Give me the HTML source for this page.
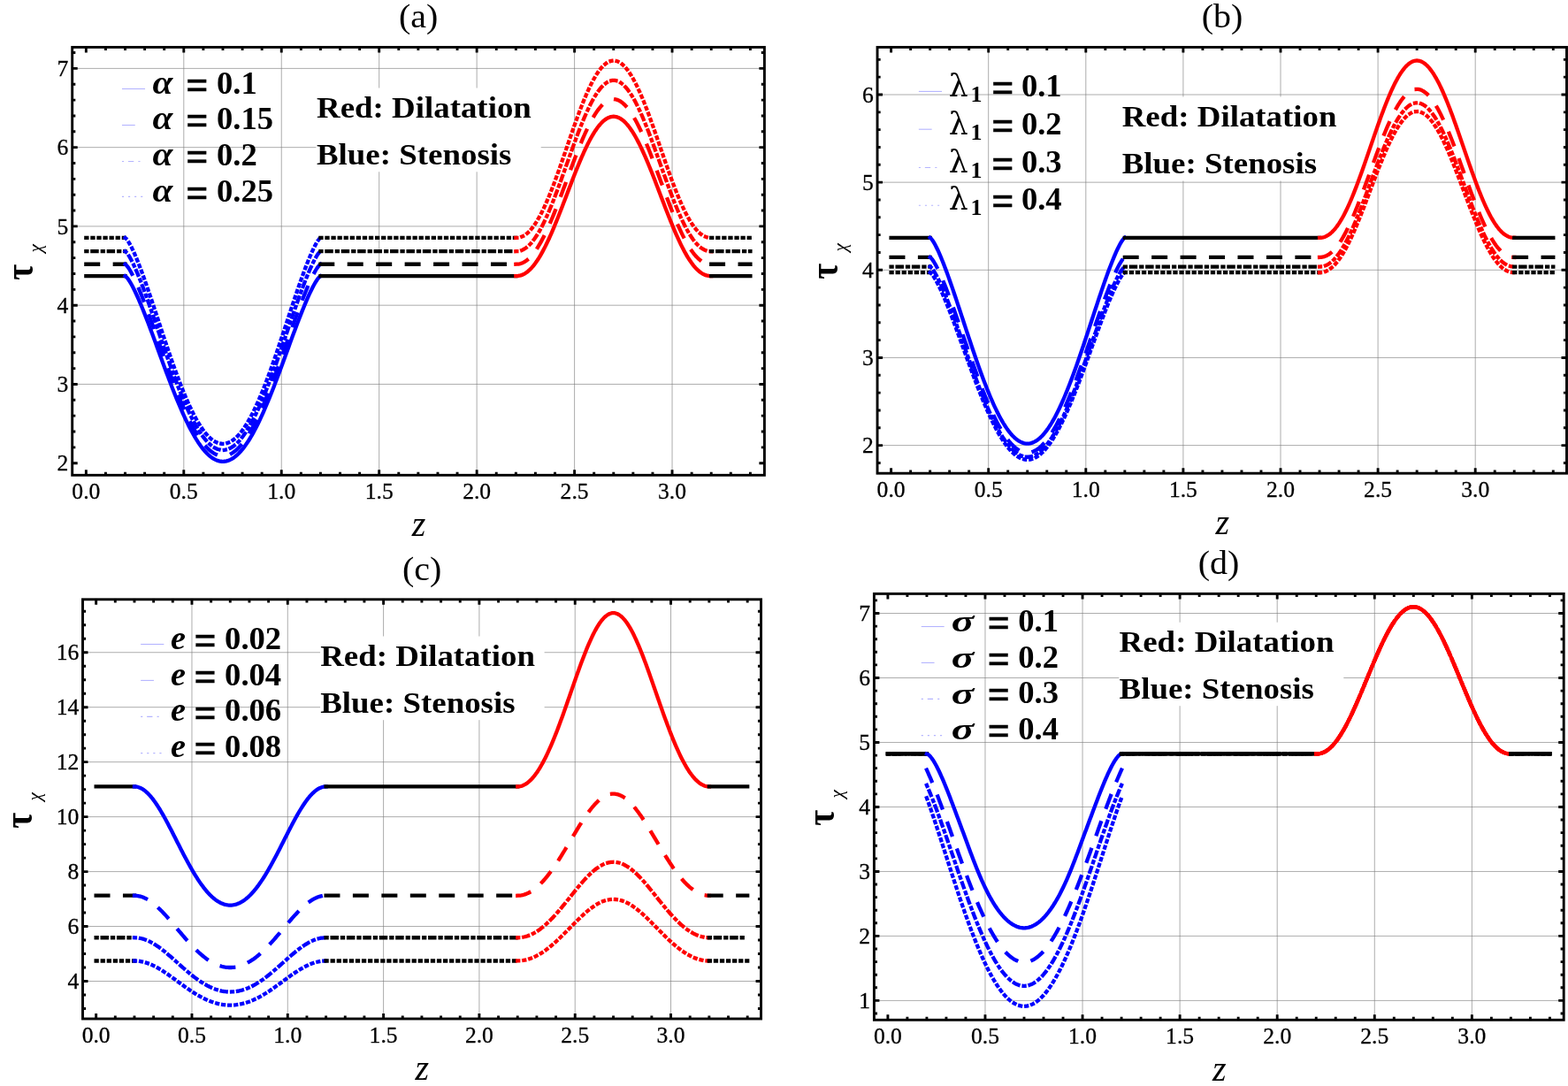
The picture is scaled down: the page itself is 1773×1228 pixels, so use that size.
<!DOCTYPE html>
<html lang="en">
<head>
<meta charset="utf-8">
<title>Wall shear stress plots</title>
<style>
html,body{margin:0;padding:0;background:#fff}
body{width:1773px;height:1228px;overflow:hidden}
svg{display:block;font-family:"Liberation Serif","DejaVu Serif",serif;fill:#000}
.grid{fill:none;stroke:#7a7a7a;stroke-width:0.62}
.frame{fill:none;stroke:#000;stroke-width:2.9}
.ticks{fill:none;stroke:#000;stroke-width:2.9}
.curves path{fill:none;stroke-linejoin:round}
.leg path{fill:none}
.eq{stroke:#000;stroke-width:.19}
.tl{stroke:#000;stroke-width:.3}
</style>
</head>
<body>
<svg width="1773" height="1228" viewBox="0 0 1773 1228">
<rect x="0" y="0" width="1773" height="1228" fill="#fff"/>
<g id="panel-a">
<path class="grid" d="M207.8 53.4V537.3M318.25 53.4V537.3M428.7 53.4V537.3M539.15 53.4V537.3M649.6 53.4V537.3M760.05 53.4V537.3M81.7 434.44H864.4M81.7 345.18H864.4M81.7 255.92H864.4M81.7 166.66H864.4M81.7 77.4H864.4"/>
<rect x="357.4" y="99.5" width="254.3" height="94.8" fill="#fff"/>
<g class="curves">
<path d="M97.35 312.15H141.53" stroke="#000" stroke-width="4.3" stroke-linecap="square"/>
<path d="M97.35 298.76H141.53" stroke="#000" stroke-width="4.3" stroke-linecap="square" stroke-dasharray="13.7 18.75"/>
<path d="M97.35 284.22H141.53" stroke="#000" stroke-width="4.3" stroke-linecap="square" stroke-dasharray="1 6 5.2 6.23"/>
<path d="M97.35 268.95H141.53" stroke="#000" stroke-width="4.3" stroke-linecap="square" stroke-dasharray="1 6.08"/>
<path d="M141.53 312.15L142.91 313.19L144.29 314.8L145.67 316.73L147.05 318.9L148.43 321.27L149.81 323.8L151.19 326.48L152.57 329.29L153.96 332.21L155.34 335.24L156.72 338.36L158.1 341.57L159.48 344.85L160.86 348.21L162.24 351.63L163.62 355.11L165 358.64L166.38 362.21L167.76 365.83L169.14 369.48L170.52 373.16L171.9 376.87L173.28 380.6L174.66 384.35L176.05 388.11L177.43 391.89L178.81 395.66L180.19 399.44L181.57 403.21L182.95 406.98L184.33 410.73L185.71 414.47L187.09 418.2L188.47 421.9L189.85 425.58L191.23 429.23L192.61 432.84L193.99 436.42L195.37 439.97L196.75 443.47L198.14 446.93L199.52 450.34L200.9 453.7L202.28 457.01L203.66 460.26L205.04 463.45L206.42 466.58L207.8 469.65L209.18 472.65L210.56 475.58L211.94 478.43L213.32 481.22L214.7 483.93L216.08 486.55L217.46 489.1L218.85 491.57L220.23 493.95L221.61 496.24L222.99 498.45L224.37 500.56L225.75 502.58L227.13 504.51L228.51 506.34L229.89 508.08L231.27 509.72L232.65 511.26L234.03 512.7L235.41 514.03L236.79 515.27L238.17 516.39L239.55 517.42L240.94 518.34L242.32 519.15L243.7 519.85L245.08 520.45L246.46 520.94L247.84 521.32L249.22 521.6L250.6 521.76L251.98 521.81L253.36 521.76L254.74 521.6L256.12 521.32L257.5 520.94L258.88 520.45L260.26 519.85L261.64 519.15L263.02 518.34L264.41 517.42L265.79 516.39L267.17 515.27L268.55 514.03L269.93 512.7L271.31 511.26L272.69 509.72L274.07 508.08L275.45 506.34L276.83 504.51L278.21 502.58L279.59 500.56L280.97 498.45L282.35 496.24L283.73 493.95L285.12 491.57L286.5 489.1L287.88 486.55L289.26 483.93L290.64 481.22L292.02 478.43L293.4 475.58L294.78 472.65L296.16 469.65L297.54 466.58L298.92 463.45L300.3 460.26L301.68 457.01L303.06 453.7L304.44 450.34L305.82 446.93L307.2 443.47L308.59 439.97L309.97 436.42L311.35 432.84L312.73 429.23L314.11 425.58L315.49 421.9L316.87 418.2L318.25 414.47L319.63 410.73L321.01 406.98L322.39 403.21L323.77 399.44L325.15 395.66L326.53 391.89L327.91 388.11L329.3 384.35L330.68 380.6L332.06 376.87L333.44 373.16L334.82 369.48L336.2 365.83L337.58 362.21L338.96 358.64L340.34 355.11L341.72 351.63L343.1 348.21L344.48 344.85L345.86 341.57L347.24 338.36L348.62 335.24L350 332.21L351.38 329.29L352.77 326.48L354.15 323.8L355.53 321.27L356.91 318.9L358.29 316.73L359.67 314.8L361.05 313.19L362.43 312.15" stroke="#00f" stroke-width="4.3" stroke-linecap="square"/>
<path d="M141.53 298.76L142.91 299.84L144.29 301.51L145.67 303.5L147.05 305.75L148.43 308.19L149.81 310.81L151.19 313.58L152.57 316.49L153.96 319.51L155.34 322.64L156.72 325.87L158.1 329.19L159.48 332.59L160.86 336.06L162.24 339.6L163.62 343.19L165 346.84L166.38 350.54L167.76 354.28L169.14 358.06L170.52 361.87L171.9 365.7L173.28 369.56L174.66 373.44L176.05 377.33L177.43 381.23L178.81 385.14L180.19 389.04L181.57 392.95L182.95 396.84L184.33 400.73L185.71 404.6L187.09 408.45L188.47 412.28L189.85 416.08L191.23 419.85L192.61 423.6L193.99 427.3L195.37 430.97L196.75 434.59L198.14 438.17L199.52 441.69L200.9 445.17L202.28 448.59L203.66 451.95L205.04 455.25L206.42 458.49L207.8 461.66L209.18 464.77L210.56 467.8L211.94 470.75L213.32 473.63L214.7 476.43L216.08 479.15L217.46 481.79L218.85 484.34L220.23 486.8L221.61 489.17L222.99 491.45L224.37 493.64L225.75 495.73L227.13 497.73L228.51 499.62L229.89 501.42L231.27 503.11L232.65 504.7L234.03 506.19L235.41 507.57L236.79 508.85L238.17 510.02L239.55 511.08L240.94 512.03L242.32 512.87L243.7 513.6L245.08 514.21L246.46 514.72L247.84 515.11L249.22 515.4L250.6 515.57L251.98 515.62L253.36 515.57L254.74 515.4L256.12 515.11L257.5 514.72L258.88 514.21L260.26 513.6L261.64 512.87L263.02 512.03L264.41 511.08L265.79 510.02L267.17 508.85L268.55 507.57L269.93 506.19L271.31 504.7L272.69 503.11L274.07 501.42L275.45 499.62L276.83 497.73L278.21 495.73L279.59 493.64L280.97 491.45L282.35 489.17L283.73 486.8L285.12 484.34L286.5 481.79L287.88 479.15L289.26 476.43L290.64 473.63L292.02 470.75L293.4 467.8L294.78 464.77L296.16 461.66L297.54 458.49L298.92 455.25L300.3 451.95L301.68 448.59L303.06 445.17L304.44 441.69L305.82 438.17L307.2 434.59L308.59 430.97L309.97 427.3L311.35 423.6L312.73 419.85L314.11 416.08L315.49 412.28L316.87 408.45L318.25 404.6L319.63 400.73L321.01 396.84L322.39 392.95L323.77 389.04L325.15 385.14L326.53 381.23L327.91 377.33L329.3 373.44L330.68 369.56L332.06 365.7L333.44 361.87L334.82 358.06L336.2 354.28L337.58 350.54L338.96 346.84L340.34 343.19L341.72 339.6L343.1 336.06L344.48 332.59L345.86 329.19L347.24 325.87L348.62 322.64L350 319.51L351.38 316.49L352.77 313.58L354.15 310.81L355.53 308.19L356.91 305.75L358.29 303.5L359.67 301.51L361.05 299.84L362.43 298.76" stroke="#00f" stroke-width="4.3" stroke-linecap="square" stroke-dasharray="13.7 18.75"/>
<path d="M141.53 284.22L142.91 285.33L144.29 287.06L145.67 289.12L147.05 291.45L148.43 293.98L149.81 296.7L151.19 299.57L152.57 302.58L153.96 305.71L155.34 308.95L156.72 312.3L158.1 315.74L159.48 319.26L160.86 322.85L162.24 326.52L163.62 330.24L165 334.03L166.38 337.86L167.76 341.73L169.14 345.65L170.52 349.59L171.9 353.57L173.28 357.57L174.66 361.59L176.05 365.62L177.43 369.66L178.81 373.7L180.19 377.75L181.57 381.79L182.95 385.83L184.33 389.86L185.71 393.86L187.09 397.85L188.47 401.82L189.85 405.76L191.23 409.67L192.61 413.55L193.99 417.39L195.37 421.18L196.75 424.94L198.14 428.64L199.52 432.3L200.9 435.9L202.28 439.44L203.66 442.93L205.04 446.35L206.42 449.7L207.8 452.99L209.18 456.2L210.56 459.34L211.94 462.4L213.32 465.39L214.7 468.29L216.08 471.11L217.46 473.84L218.85 476.48L220.23 479.03L221.61 481.49L222.99 483.85L224.37 486.12L225.75 488.28L227.13 490.35L228.51 492.32L229.89 494.18L231.27 495.93L232.65 497.58L234.03 499.12L235.41 500.55L236.79 501.87L238.17 503.08L239.55 504.18L240.94 505.17L242.32 506.04L243.7 506.79L245.08 507.43L246.46 507.96L247.84 508.37L249.22 508.66L250.6 508.83L251.98 508.89L253.36 508.83L254.74 508.66L256.12 508.37L257.5 507.96L258.88 507.43L260.26 506.79L261.64 506.04L263.02 505.17L264.41 504.18L265.79 503.08L267.17 501.87L268.55 500.55L269.93 499.12L271.31 497.58L272.69 495.93L274.07 494.18L275.45 492.32L276.83 490.35L278.21 488.28L279.59 486.12L280.97 483.85L282.35 481.49L283.73 479.03L285.12 476.48L286.5 473.84L287.88 471.11L289.26 468.29L290.64 465.39L292.02 462.4L293.4 459.34L294.78 456.2L296.16 452.99L297.54 449.7L298.92 446.35L300.3 442.93L301.68 439.44L303.06 435.9L304.44 432.3L305.82 428.64L307.2 424.94L308.59 421.18L309.97 417.39L311.35 413.55L312.73 409.67L314.11 405.76L315.49 401.82L316.87 397.85L318.25 393.86L319.63 389.86L321.01 385.83L322.39 381.79L323.77 377.75L325.15 373.7L326.53 369.66L327.91 365.62L329.3 361.59L330.68 357.57L332.06 353.57L333.44 349.59L334.82 345.65L336.2 341.73L337.58 337.86L338.96 334.03L340.34 330.24L341.72 326.52L343.1 322.85L344.48 319.26L345.86 315.74L347.24 312.3L348.62 308.95L350 305.71L351.38 302.58L352.77 299.57L354.15 296.7L355.53 293.98L356.91 291.45L358.29 289.12L359.67 287.06L361.05 285.33L362.43 284.22" stroke="#00f" stroke-width="4.3" stroke-linecap="square" stroke-dasharray="1 6 5.2 6.23"/>
<path d="M141.53 268.95L142.91 270.11L144.29 271.9L145.67 274.04L147.05 276.45L148.43 279.08L149.81 281.89L151.19 284.87L152.57 287.98L153.96 291.23L155.34 294.59L156.72 298.06L158.1 301.62L159.48 305.27L160.86 309L162.24 312.8L163.62 316.66L165 320.58L166.38 324.55L167.76 328.57L169.14 332.63L170.52 336.72L171.9 340.84L173.28 344.98L174.66 349.15L176.05 353.33L177.43 357.51L178.81 361.71L180.19 365.9L181.57 370.09L182.95 374.28L184.33 378.45L185.71 382.6L187.09 386.74L188.47 390.85L189.85 394.94L191.23 398.99L192.61 403.01L193.99 406.99L195.37 410.92L196.75 414.81L198.14 418.65L199.52 422.44L200.9 426.18L202.28 429.85L203.66 433.46L205.04 437L206.42 440.48L207.8 443.89L209.18 447.22L210.56 450.47L211.94 453.65L213.32 456.74L214.7 459.75L216.08 462.67L217.46 465.5L218.85 468.24L220.23 470.88L221.61 473.43L222.99 475.88L224.37 478.23L225.75 480.47L227.13 482.61L228.51 484.65L229.89 486.58L231.27 488.4L232.65 490.11L234.03 491.71L235.41 493.19L236.79 494.56L238.17 495.81L239.55 496.95L240.94 497.97L242.32 498.87L243.7 499.66L245.08 500.32L246.46 500.86L247.84 501.29L249.22 501.59L250.6 501.77L251.98 501.83L253.36 501.77L254.74 501.59L256.12 501.29L257.5 500.86L258.88 500.32L260.26 499.66L261.64 498.87L263.02 497.97L264.41 496.95L265.79 495.81L267.17 494.56L268.55 493.19L269.93 491.71L271.31 490.11L272.69 488.4L274.07 486.58L275.45 484.65L276.83 482.61L278.21 480.47L279.59 478.23L280.97 475.88L282.35 473.43L283.73 470.88L285.12 468.24L286.5 465.5L287.88 462.67L289.26 459.75L290.64 456.74L292.02 453.65L293.4 450.47L294.78 447.22L296.16 443.89L297.54 440.48L298.92 437L300.3 433.46L301.68 429.85L303.06 426.18L304.44 422.44L305.82 418.65L307.2 414.81L308.59 410.92L309.97 406.99L311.35 403.01L312.73 398.99L314.11 394.94L315.49 390.85L316.87 386.74L318.25 382.6L319.63 378.45L321.01 374.28L322.39 370.09L323.77 365.9L325.15 361.71L326.53 357.51L327.91 353.33L329.3 349.15L330.68 344.98L332.06 340.84L333.44 336.72L334.82 332.63L336.2 328.57L337.58 324.55L338.96 320.58L340.34 316.66L341.72 312.8L343.1 309L344.48 305.27L345.86 301.62L347.24 298.06L348.62 294.59L350 291.23L351.38 287.98L352.77 284.87L354.15 281.89L355.53 279.08L356.91 276.45L358.29 274.04L359.67 271.9L361.05 270.11L362.43 268.95" stroke="#00f" stroke-width="4.3" stroke-linecap="square" stroke-dasharray="1 6.08"/>
<path d="M362.43 312.15H583.33" stroke="#000" stroke-width="4.3" stroke-linecap="square"/>
<path d="M362.43 298.76H583.33" stroke="#000" stroke-width="4.3" stroke-linecap="square" stroke-dasharray="13.7 18.75"/>
<path d="M362.43 284.22H583.33" stroke="#000" stroke-width="4.3" stroke-linecap="square" stroke-dasharray="1 6 5.2 6.23"/>
<path d="M362.43 268.95H583.33" stroke="#000" stroke-width="4.3" stroke-linecap="square" stroke-dasharray="1 6.08"/>
<path d="M583.33 312.15L584.71 312.11L586.09 311.98L587.47 311.73L588.85 311.38L590.23 310.9L591.61 310.31L592.99 309.59L594.38 308.75L595.76 307.78L597.14 306.69L598.52 305.48L599.9 304.13L601.28 302.67L602.66 301.08L604.04 299.37L605.42 297.54L606.8 295.59L608.18 293.52L609.56 291.35L610.94 289.06L612.32 286.66L613.7 284.16L615.08 281.56L616.47 278.86L617.85 276.07L619.23 273.19L620.61 270.23L621.99 267.18L623.37 264.06L624.75 260.87L626.13 257.61L627.51 254.29L628.89 250.92L630.27 247.5L631.65 244.03L633.03 240.52L634.41 236.98L635.79 233.42L637.17 229.83L638.56 226.22L639.94 222.61L641.32 218.99L642.7 215.37L644.08 211.76L645.46 208.17L646.84 204.59L648.22 201.05L649.6 197.53L650.98 194.05L652.36 190.61L653.74 187.23L655.12 183.89L656.5 180.62L657.88 177.42L659.26 174.28L660.65 171.23L662.03 168.25L663.41 165.36L664.79 162.57L666.17 159.87L667.55 157.27L668.93 154.77L670.31 152.39L671.69 150.12L673.07 147.96L674.45 145.93L675.83 144.03L677.21 142.25L678.59 140.6L679.97 139.09L681.35 137.71L682.74 136.47L684.12 135.37L685.5 134.41L686.88 133.6L688.26 132.94L689.64 132.42L691.02 132.05L692.4 131.82L693.78 131.75L695.16 131.82L696.54 132.05L697.92 132.42L699.3 132.94L700.68 133.6L702.06 134.41L703.44 135.37L704.83 136.47L706.21 137.71L707.59 139.09L708.97 140.6L710.35 142.25L711.73 144.03L713.11 145.93L714.49 147.96L715.87 150.12L717.25 152.39L718.63 154.77L720.01 157.27L721.39 159.87L722.77 162.57L724.15 165.36L725.53 168.25L726.92 171.23L728.3 174.28L729.68 177.42L731.06 180.62L732.44 183.89L733.82 187.23L735.2 190.61L736.58 194.05L737.96 197.53L739.34 201.05L740.72 204.59L742.1 208.17L743.48 211.76L744.86 215.37L746.24 218.99L747.62 222.61L749.01 226.22L750.39 229.83L751.77 233.42L753.15 236.98L754.53 240.52L755.91 244.03L757.29 247.5L758.67 250.92L760.05 254.29L761.43 257.61L762.81 260.87L764.19 264.06L765.57 267.18L766.95 270.23L768.33 273.19L769.71 276.07L771.1 278.86L772.48 281.56L773.86 284.16L775.24 286.66L776.62 289.06L778 291.35L779.38 293.52L780.76 295.59L782.14 297.54L783.52 299.37L784.9 301.08L786.28 302.67L787.66 304.13L789.04 305.48L790.42 306.69L791.8 307.78L793.19 308.75L794.57 309.59L795.95 310.31L797.33 310.9L798.71 311.38L800.09 311.73L801.47 311.98L802.85 312.11L804.23 312.15" stroke="#f00" stroke-width="4.3" stroke-linecap="square"/>
<path d="M583.33 298.76L584.71 298.72L586.09 298.58L587.47 298.33L588.85 297.96L590.23 297.47L591.61 296.85L592.99 296.11L594.38 295.24L595.76 294.24L597.14 293.12L598.52 291.86L599.9 290.47L601.28 288.95L602.66 287.31L604.04 285.54L605.42 283.65L606.8 281.63L608.18 279.5L609.56 277.24L610.94 274.88L612.32 272.4L613.7 269.81L615.08 267.12L616.47 264.33L617.85 261.44L619.23 258.46L620.61 255.4L621.99 252.25L623.37 249.02L624.75 245.72L626.13 242.35L627.51 238.92L628.89 235.43L630.27 231.89L631.65 228.3L633.03 224.68L634.41 221.01L635.79 217.33L637.17 213.61L638.56 209.88L639.94 206.15L641.32 202.4L642.7 198.66L644.08 194.93L645.46 191.21L646.84 187.51L648.22 183.84L649.6 180.21L650.98 176.61L652.36 173.05L653.74 169.55L655.12 166.1L656.5 162.72L657.88 159.4L659.26 156.16L660.65 153L662.03 149.92L663.41 146.93L664.79 144.04L666.17 141.25L667.55 138.56L668.93 135.98L670.31 133.52L671.69 131.17L673.07 128.94L674.45 126.84L675.83 124.87L677.21 123.03L678.59 121.32L679.97 119.76L681.35 118.33L682.74 117.05L684.12 115.91L685.5 114.92L686.88 114.08L688.26 113.4L689.64 112.86L691.02 112.47L692.4 112.24L693.78 112.17L695.16 112.24L696.54 112.47L697.92 112.86L699.3 113.4L700.68 114.08L702.06 114.92L703.44 115.91L704.83 117.05L706.21 118.33L707.59 119.76L708.97 121.32L710.35 123.03L711.73 124.87L713.11 126.84L714.49 128.94L715.87 131.17L717.25 133.52L718.63 135.98L720.01 138.56L721.39 141.25L722.77 144.04L724.15 146.93L725.53 149.92L726.92 153L728.3 156.16L729.68 159.4L731.06 162.72L732.44 166.1L733.82 169.55L735.2 173.05L736.58 176.61L737.96 180.21L739.34 183.84L740.72 187.51L742.1 191.21L743.48 194.93L744.86 198.66L746.24 202.4L747.62 206.15L749.01 209.88L750.39 213.61L751.77 217.33L753.15 221.01L754.53 224.68L755.91 228.3L757.29 231.89L758.67 235.43L760.05 238.92L761.43 242.35L762.81 245.72L764.19 249.02L765.57 252.25L766.95 255.4L768.33 258.46L769.71 261.44L771.1 264.33L772.48 267.12L773.86 269.81L775.24 272.4L776.62 274.88L778 277.24L779.38 279.5L780.76 281.63L782.14 283.65L783.52 285.54L784.9 287.31L786.28 288.95L787.66 290.47L789.04 291.86L790.42 293.12L791.8 294.24L793.19 295.24L794.57 296.11L795.95 296.85L797.33 297.47L798.71 297.96L800.09 298.33L801.47 298.58L802.85 298.72L804.23 298.76" stroke="#f00" stroke-width="4.3" stroke-linecap="square" stroke-dasharray="13.7 18.75"/>
<path d="M583.33 284.22L584.71 284.17L586.09 284.03L587.47 283.76L588.85 283.38L590.23 282.87L591.61 282.24L592.99 281.47L594.38 280.57L595.76 279.53L597.14 278.36L598.52 277.06L599.9 275.62L601.28 274.05L602.66 272.35L604.04 270.51L605.42 268.55L606.8 266.46L608.18 264.25L609.56 261.92L610.94 259.47L612.32 256.9L613.7 254.22L615.08 251.43L616.47 248.54L617.85 245.55L619.23 242.46L620.61 239.28L621.99 236.02L623.37 232.68L624.75 229.26L626.13 225.77L627.51 222.21L628.89 218.6L630.27 214.93L631.65 211.21L633.03 207.45L634.41 203.66L635.79 199.84L637.17 195.99L638.56 192.13L639.94 188.26L641.32 184.38L642.7 180.5L644.08 176.64L645.46 172.78L646.84 168.95L648.22 165.15L649.6 161.38L650.98 157.65L652.36 153.97L653.74 150.34L655.12 146.77L656.5 143.26L657.88 139.83L659.26 136.47L660.65 133.19L662.03 130.01L663.41 126.91L664.79 123.91L666.17 121.02L667.55 118.23L668.93 115.56L670.31 113.01L671.69 110.57L673.07 108.27L674.45 106.09L675.83 104.05L677.21 102.14L678.59 100.37L679.97 98.75L681.35 97.27L682.74 95.95L684.12 94.77L685.5 93.74L686.88 92.88L688.26 92.16L689.64 91.61L691.02 91.21L692.4 90.97L693.78 90.89L695.16 90.97L696.54 91.21L697.92 91.61L699.3 92.16L700.68 92.88L702.06 93.74L703.44 94.77L704.83 95.95L706.21 97.27L707.59 98.75L708.97 100.37L710.35 102.14L711.73 104.05L713.11 106.09L714.49 108.27L715.87 110.57L717.25 113.01L718.63 115.56L720.01 118.23L721.39 121.02L722.77 123.91L724.15 126.91L725.53 130.01L726.92 133.19L728.3 136.47L729.68 139.83L731.06 143.26L732.44 146.77L733.82 150.34L735.2 153.97L736.58 157.65L737.96 161.38L739.34 165.15L740.72 168.95L742.1 172.78L743.48 176.64L744.86 180.5L746.24 184.38L747.62 188.26L749.01 192.13L750.39 195.99L751.77 199.84L753.15 203.66L754.53 207.45L755.91 211.21L757.29 214.93L758.67 218.6L760.05 222.21L761.43 225.77L762.81 229.26L764.19 232.68L765.57 236.02L766.95 239.28L768.33 242.46L769.71 245.55L771.1 248.54L772.48 251.43L773.86 254.22L775.24 256.9L776.62 259.47L778 261.92L779.38 264.25L780.76 266.46L782.14 268.55L783.52 270.51L784.9 272.35L786.28 274.05L787.66 275.62L789.04 277.06L790.42 278.36L791.8 279.53L793.19 280.57L794.57 281.47L795.95 282.24L797.33 282.87L798.71 283.38L800.09 283.76L801.47 284.03L802.85 284.17L804.23 284.22" stroke="#f00" stroke-width="4.3" stroke-linecap="square" stroke-dasharray="1 6 5.2 6.23"/>
<path d="M583.33 268.95L584.71 268.91L586.09 268.76L587.47 268.48L588.85 268.09L590.23 267.56L591.61 266.9L592.99 266.1L594.38 265.17L595.76 264.1L597.14 262.88L598.52 261.53L599.9 260.04L601.28 258.42L602.66 256.65L604.04 254.75L605.42 252.72L606.8 250.55L608.18 248.26L609.56 245.84L610.94 243.3L612.32 240.64L613.7 237.86L615.08 234.97L616.47 231.97L617.85 228.87L619.23 225.67L620.61 222.38L621.99 219L623.37 215.53L624.75 211.99L626.13 208.37L627.51 204.68L628.89 200.94L630.27 197.13L631.65 193.28L633.03 189.39L634.41 185.46L635.79 181.49L637.17 177.51L638.56 173.5L639.94 169.49L641.32 165.47L642.7 161.45L644.08 157.44L645.46 153.45L646.84 149.48L648.22 145.54L649.6 141.63L650.98 137.77L652.36 133.95L653.74 130.19L655.12 126.49L656.5 122.85L657.88 119.29L659.26 115.81L660.65 112.42L662.03 109.11L663.41 105.9L664.79 102.8L666.17 99.8L667.55 96.91L668.93 94.14L670.31 91.49L671.69 88.97L673.07 86.58L674.45 84.32L675.83 82.2L677.21 80.23L678.59 78.4L679.97 76.72L681.35 75.18L682.74 73.81L684.12 72.59L685.5 71.53L686.88 70.62L688.26 69.89L689.64 69.31L691.02 68.9L692.4 68.65L693.78 68.57L695.16 68.65L696.54 68.9L697.92 69.31L699.3 69.89L700.68 70.62L702.06 71.53L703.44 72.59L704.83 73.81L706.21 75.18L707.59 76.72L708.97 78.4L710.35 80.23L711.73 82.2L713.11 84.32L714.49 86.58L715.87 88.97L717.25 91.49L718.63 94.14L720.01 96.91L721.39 99.8L722.77 102.8L724.15 105.9L725.53 109.11L726.92 112.42L728.3 115.81L729.68 119.29L731.06 122.85L732.44 126.49L733.82 130.19L735.2 133.95L736.58 137.77L737.96 141.63L739.34 145.54L740.72 149.48L742.1 153.45L743.48 157.44L744.86 161.45L746.24 165.47L747.62 169.49L749.01 173.5L750.39 177.51L751.77 181.49L753.15 185.46L754.53 189.39L755.91 193.28L757.29 197.13L758.67 200.94L760.05 204.68L761.43 208.37L762.81 211.99L764.19 215.53L765.57 219L766.95 222.38L768.33 225.67L769.71 228.87L771.1 231.97L772.48 234.97L773.86 237.86L775.24 240.64L776.62 243.3L778 245.84L779.38 248.26L780.76 250.55L782.14 252.72L783.52 254.75L784.9 256.65L786.28 258.42L787.66 260.04L789.04 261.53L790.42 262.88L791.8 264.1L793.19 265.17L794.57 266.1L795.95 266.9L797.33 267.56L798.71 268.09L800.09 268.48L801.47 268.76L802.85 268.91L804.23 268.95" stroke="#f00" stroke-width="4.3" stroke-linecap="square" stroke-dasharray="1 6.08"/>
<path d="M804.23 312.15H848.41" stroke="#000" stroke-width="4.3" stroke-linecap="square"/>
<path d="M804.23 298.76H848.41" stroke="#000" stroke-width="4.3" stroke-linecap="square" stroke-dasharray="13.7 18.75"/>
<path d="M804.23 284.22H848.41" stroke="#000" stroke-width="4.3" stroke-linecap="square" stroke-dasharray="1 6 5.2 6.23"/>
<path d="M804.23 268.95H848.41" stroke="#000" stroke-width="4.3" stroke-linecap="square" stroke-dasharray="1 6.08"/>
</g>
<rect class="frame" x="81.7" y="53.4" width="782.7" height="483.9"/>
<path class="ticks" d="M97.35 537.3v-6M97.35 53.4v6M207.8 537.3v-6M207.8 53.4v6M318.25 537.3v-6M318.25 53.4v6M428.7 537.3v-6M428.7 53.4v6M539.15 537.3v-6M539.15 53.4v6M649.6 537.3v-6M649.6 53.4v6M760.05 537.3v-6M760.05 53.4v6M119.44 537.3v-3.6M119.44 53.4v3.6M141.53 537.3v-3.6M141.53 53.4v3.6M163.62 537.3v-3.6M163.62 53.4v3.6M185.71 537.3v-3.6M185.71 53.4v3.6M229.89 537.3v-3.6M229.89 53.4v3.6M251.98 537.3v-3.6M251.98 53.4v3.6M274.07 537.3v-3.6M274.07 53.4v3.6M296.16 537.3v-3.6M296.16 53.4v3.6M340.34 537.3v-3.6M340.34 53.4v3.6M362.43 537.3v-3.6M362.43 53.4v3.6M384.52 537.3v-3.6M384.52 53.4v3.6M406.61 537.3v-3.6M406.61 53.4v3.6M450.79 537.3v-3.6M450.79 53.4v3.6M472.88 537.3v-3.6M472.88 53.4v3.6M494.97 537.3v-3.6M494.97 53.4v3.6M517.06 537.3v-3.6M517.06 53.4v3.6M561.24 537.3v-3.6M561.24 53.4v3.6M583.33 537.3v-3.6M583.33 53.4v3.6M605.42 537.3v-3.6M605.42 53.4v3.6M627.51 537.3v-3.6M627.51 53.4v3.6M671.69 537.3v-3.6M671.69 53.4v3.6M693.78 537.3v-3.6M693.78 53.4v3.6M715.87 537.3v-3.6M715.87 53.4v3.6M737.96 537.3v-3.6M737.96 53.4v3.6M782.14 537.3v-3.6M782.14 53.4v3.6M804.23 537.3v-3.6M804.23 53.4v3.6M826.32 537.3v-3.6M826.32 53.4v3.6M848.41 537.3v-3.6M848.41 53.4v3.6M81.7 523.7h6M864.4 523.7h-6M81.7 434.44h6M864.4 434.44h-6M81.7 345.18h6M864.4 345.18h-6M81.7 255.92h6M864.4 255.92h-6M81.7 166.66h6M864.4 166.66h-6M81.7 77.4h6M864.4 77.4h-6M81.7 505.85h3.6M864.4 505.85h-3.6M81.7 488h3.6M864.4 488h-3.6M81.7 470.14h3.6M864.4 470.14h-3.6M81.7 452.29h3.6M864.4 452.29h-3.6M81.7 416.59h3.6M864.4 416.59h-3.6M81.7 398.74h3.6M864.4 398.74h-3.6M81.7 380.88h3.6M864.4 380.88h-3.6M81.7 363.03h3.6M864.4 363.03h-3.6M81.7 327.33h3.6M864.4 327.33h-3.6M81.7 309.48h3.6M864.4 309.48h-3.6M81.7 291.62h3.6M864.4 291.62h-3.6M81.7 273.77h3.6M864.4 273.77h-3.6M81.7 238.07h3.6M864.4 238.07h-3.6M81.7 220.22h3.6M864.4 220.22h-3.6M81.7 202.36h3.6M864.4 202.36h-3.6M81.7 184.51h3.6M864.4 184.51h-3.6M81.7 148.81h3.6M864.4 148.81h-3.6M81.7 130.96h3.6M864.4 130.96h-3.6M81.7 113.1h3.6M864.4 113.1h-3.6M81.7 95.25h3.6M864.4 95.25h-3.6M81.7 59.55h3.6M864.4 59.55h-3.6"/>
<text class="tl" transform="translate(97.35 564.2) scale(0.985 1)" font-size="26" text-anchor="middle">0.0</text>
<text class="tl" transform="translate(207.8 564.2) scale(0.985 1)" font-size="26" text-anchor="middle">0.5</text>
<text class="tl" transform="translate(318.25 564.2) scale(0.985 1)" font-size="26" text-anchor="middle">1.0</text>
<text class="tl" transform="translate(428.7 564.2) scale(0.985 1)" font-size="26" text-anchor="middle">1.5</text>
<text class="tl" transform="translate(539.15 564.2) scale(0.985 1)" font-size="26" text-anchor="middle">2.0</text>
<text class="tl" transform="translate(649.6 564.2) scale(0.985 1)" font-size="26" text-anchor="middle">2.5</text>
<text class="tl" transform="translate(760.05 564.2) scale(0.985 1)" font-size="26" text-anchor="middle">3.0</text>
<text class="tl" transform="translate(77.2 532.4) scale(0.985 1)" font-size="26" text-anchor="end">2</text>
<text class="tl" transform="translate(77.2 443.14) scale(0.985 1)" font-size="26" text-anchor="end">3</text>
<text class="tl" transform="translate(77.2 353.88) scale(0.985 1)" font-size="26" text-anchor="end">4</text>
<text class="tl" transform="translate(77.2 264.62) scale(0.985 1)" font-size="26" text-anchor="end">5</text>
<text class="tl" transform="translate(77.2 175.36) scale(0.985 1)" font-size="26" text-anchor="end">6</text>
<text class="tl" transform="translate(77.2 86.1) scale(0.985 1)" font-size="26" text-anchor="end">7</text>
<text transform="translate(473.1 30.9) scale(1 0.96)" font-size="40" text-anchor="middle">(a)</text>
<text transform="translate(473.6 605.6) scale(1 1.03)" font-size="40" font-style="italic" text-anchor="middle">z</text>
<text transform="translate(37.05 316.7) rotate(-90) scale(0.98 1.14)" font-size="40" font-weight="bold">τ</text>
<text transform="translate(46.6 285.6) rotate(-90)" font-size="21.4" font-style="italic">χ</text>
<g class="leg">
<path d="M138.5 100.5H163.5" stroke="#b4b4ff" stroke-width="1.1" stroke-linecap="square"/>
<path d="M138.5 141.5H163.5" stroke="#b4b4ff" stroke-width="1.1" stroke-linecap="square" stroke-dasharray="13.7 18.75"/>
<path d="M138.5 182.5H163.5" stroke="#b4b4ff" stroke-width="1.1" stroke-linecap="square" stroke-dasharray="1 6 5.2 6.23"/>
<path d="M138.5 222.4H163.5" stroke="#b4b4ff" stroke-width="1.1" stroke-linecap="square" stroke-dasharray="1 6.08"/>
</g>
<text transform="translate(172.55 105.7) scale(1.15 1.04)" font-size="36" font-weight="bold" font-style="italic">α</text>
<text class="eq" transform="translate(209.9 111.74) scale(1.25 1.374)" font-size="36" font-weight="bold">=</text>
<text transform="translate(245 105.7) scale(1.017 1)" font-size="36" font-weight="bold">0.1</text>
<text transform="translate(172.55 145.6) scale(1.15 1.04)" font-size="36" font-weight="bold" font-style="italic">α</text>
<text class="eq" transform="translate(209.9 151.64) scale(1.25 1.374)" font-size="36" font-weight="bold">=</text>
<text transform="translate(245 145.6) scale(1.017 1)" font-size="36" font-weight="bold">0.15</text>
<text transform="translate(172.55 186.85) scale(1.15 1.04)" font-size="36" font-weight="bold" font-style="italic">α</text>
<text class="eq" transform="translate(209.9 192.89) scale(1.25 1.374)" font-size="36" font-weight="bold">=</text>
<text transform="translate(245 186.85) scale(1.017 1)" font-size="36" font-weight="bold">0.2</text>
<text transform="translate(172.55 227.9) scale(1.15 1.04)" font-size="36" font-weight="bold" font-style="italic">α</text>
<text class="eq" transform="translate(209.9 233.94) scale(1.25 1.374)" font-size="36" font-weight="bold">=</text>
<text transform="translate(245 227.9) scale(1.017 1)" font-size="36" font-weight="bold">0.25</text>
<text transform="translate(358 133.4) scale(1.025 0.965)" font-size="36" font-weight="bold">Red: Dilatation</text>
<text transform="translate(358 185.6) scale(1.025 0.965)" font-size="36" font-weight="bold">Blue: Stenosis</text>
</g>
<g id="panel-b">
<path class="grid" d="M1117.7 53.4V535.2M1227.8 53.4V535.2M1337.9 53.4V535.2M1448 53.4V535.2M1558.1 53.4V535.2M1668.2 53.4V535.2M992.05 503.6H1771.5M992.05 404.45H1771.5M992.05 305.3H1771.5M992.05 206.15H1771.5M992.05 107H1771.5"/>
<rect x="1268.1" y="109.5" width="254.3" height="95" fill="#fff"/>
<g class="curves">
<path d="M1007.6 268.81H1051.64" stroke="#000" stroke-width="4.3" stroke-linecap="square"/>
<path d="M1007.6 290.92H1051.64" stroke="#000" stroke-width="4.3" stroke-linecap="square" stroke-dasharray="13.7 18.75"/>
<path d="M1007.6 301.53H1051.64" stroke="#000" stroke-width="4.3" stroke-linecap="square" stroke-dasharray="1 6 5.2 6.23"/>
<path d="M1007.6 308.18H1051.64" stroke="#000" stroke-width="4.3" stroke-linecap="square" stroke-dasharray="1 6.08"/>
<path d="M1051.64 268.81L1053.02 269.97L1054.39 271.76L1055.77 273.9L1057.14 276.31L1058.52 278.93L1059.9 281.75L1061.27 284.72L1062.65 287.84L1064.03 291.08L1065.4 294.44L1066.78 297.91L1068.15 301.47L1069.53 305.12L1070.91 308.85L1072.28 312.64L1073.66 316.5L1075.04 320.42L1076.41 324.39L1077.79 328.41L1079.16 332.46L1080.54 336.55L1081.92 340.67L1083.29 344.81L1084.67 348.97L1086.05 353.15L1087.42 357.34L1088.8 361.53L1090.17 365.72L1091.55 369.91L1092.93 374.09L1094.3 378.26L1095.68 382.42L1097.06 386.55L1098.43 390.66L1099.81 394.75L1101.18 398.8L1102.56 402.81L1103.94 406.79L1105.31 410.72L1106.69 414.61L1108.07 418.45L1109.44 422.24L1110.82 425.97L1112.19 429.64L1113.57 433.25L1114.95 436.8L1116.32 440.27L1117.7 443.68L1119.08 447.01L1120.45 450.26L1121.83 453.43L1123.2 456.52L1124.58 459.53L1125.96 462.45L1127.33 465.28L1128.71 468.01L1130.09 470.66L1131.46 473.2L1132.84 475.65L1134.21 478L1135.59 480.25L1136.97 482.39L1138.34 484.42L1139.72 486.35L1141.1 488.17L1142.47 489.88L1143.85 491.47L1145.22 492.96L1146.6 494.33L1147.98 495.58L1149.35 496.72L1150.73 497.74L1152.11 498.64L1153.48 499.42L1154.86 500.09L1156.24 500.63L1157.61 501.05L1158.99 501.35L1160.36 501.54L1161.74 501.6L1163.12 501.54L1164.49 501.35L1165.87 501.05L1167.25 500.63L1168.62 500.09L1170 499.42L1171.37 498.64L1172.75 497.74L1174.13 496.72L1175.5 495.58L1176.88 494.33L1178.26 492.96L1179.63 491.47L1181.01 489.88L1182.38 488.17L1183.76 486.35L1185.14 484.42L1186.51 482.39L1187.89 480.25L1189.27 478L1190.64 475.65L1192.02 473.2L1193.39 470.66L1194.77 468.01L1196.15 465.28L1197.52 462.45L1198.9 459.53L1200.28 456.52L1201.65 453.43L1203.03 450.26L1204.4 447.01L1205.78 443.68L1207.16 440.27L1208.53 436.8L1209.91 433.25L1211.29 429.64L1212.66 425.97L1214.04 422.24L1215.41 418.45L1216.79 414.61L1218.17 410.72L1219.54 406.79L1220.92 402.81L1222.3 398.8L1223.67 394.75L1225.05 390.66L1226.42 386.55L1227.8 382.42L1229.18 378.26L1230.55 374.09L1231.93 369.91L1233.31 365.72L1234.68 361.53L1236.06 357.34L1237.43 353.15L1238.81 348.97L1240.19 344.81L1241.56 340.67L1242.94 336.55L1244.32 332.46L1245.69 328.41L1247.07 324.39L1248.44 320.42L1249.82 316.5L1251.2 312.64L1252.57 308.85L1253.95 305.12L1255.33 301.47L1256.7 297.91L1258.08 294.44L1259.45 291.08L1260.83 287.84L1262.21 284.72L1263.58 281.75L1264.96 278.93L1266.34 276.31L1267.71 273.9L1269.09 271.76L1270.46 269.97L1271.84 268.81" stroke="#00f" stroke-width="4.3" stroke-linecap="square"/>
<path d="M1051.64 290.92L1053.02 292.02L1054.39 293.72L1055.77 295.75L1057.14 298.03L1058.52 300.53L1059.9 303.2L1061.27 306.02L1062.65 308.98L1064.03 312.06L1065.4 315.25L1066.78 318.54L1068.15 321.91L1069.53 325.38L1070.91 328.91L1072.28 332.52L1073.66 336.18L1075.04 339.9L1076.41 343.66L1077.79 347.47L1079.16 351.32L1080.54 355.2L1081.92 359.11L1083.29 363.04L1084.67 366.99L1086.05 370.96L1087.42 374.93L1088.8 378.91L1090.17 382.89L1091.55 386.86L1092.93 390.83L1094.3 394.79L1095.68 398.73L1097.06 402.65L1098.43 406.55L1099.81 410.43L1101.18 414.27L1102.56 418.08L1103.94 421.86L1105.31 425.59L1106.69 429.28L1108.07 432.92L1109.44 436.52L1110.82 440.06L1112.19 443.54L1113.57 446.97L1114.95 450.33L1116.32 453.63L1117.7 456.86L1119.08 460.02L1120.45 463.11L1121.83 466.12L1123.2 469.05L1124.58 471.9L1125.96 474.67L1127.33 477.36L1128.71 479.96L1130.09 482.46L1131.46 484.88L1132.84 487.2L1134.21 489.43L1135.59 491.56L1136.97 493.59L1138.34 495.52L1139.72 497.35L1141.1 499.08L1142.47 500.7L1143.85 502.22L1145.22 503.62L1146.6 504.92L1147.98 506.11L1149.35 507.19L1150.73 508.16L1152.11 509.02L1153.48 509.76L1154.86 510.39L1156.24 510.9L1157.61 511.31L1158.99 511.59L1160.36 511.77L1161.74 511.82L1163.12 511.77L1164.49 511.59L1165.87 511.31L1167.25 510.9L1168.62 510.39L1170 509.76L1171.37 509.02L1172.75 508.16L1174.13 507.19L1175.5 506.11L1176.88 504.92L1178.26 503.62L1179.63 502.22L1181.01 500.7L1182.38 499.08L1183.76 497.35L1185.14 495.52L1186.51 493.59L1187.89 491.56L1189.27 489.43L1190.64 487.2L1192.02 484.88L1193.39 482.46L1194.77 479.96L1196.15 477.36L1197.52 474.67L1198.9 471.9L1200.28 469.05L1201.65 466.12L1203.03 463.11L1204.4 460.02L1205.78 456.86L1207.16 453.63L1208.53 450.33L1209.91 446.97L1211.29 443.54L1212.66 440.06L1214.04 436.52L1215.41 432.92L1216.79 429.28L1218.17 425.59L1219.54 421.86L1220.92 418.08L1222.3 414.27L1223.67 410.43L1225.05 406.55L1226.42 402.65L1227.8 398.73L1229.18 394.79L1230.55 390.83L1231.93 386.86L1233.31 382.89L1234.68 378.91L1236.06 374.93L1237.43 370.96L1238.81 366.99L1240.19 363.04L1241.56 359.11L1242.94 355.2L1244.32 351.32L1245.69 347.47L1247.07 343.66L1248.44 339.9L1249.82 336.18L1251.2 332.52L1252.57 328.91L1253.95 325.38L1255.33 321.91L1256.7 318.54L1258.08 315.25L1259.45 312.06L1260.83 308.98L1262.21 306.02L1263.58 303.2L1264.96 300.53L1266.34 298.03L1267.71 295.75L1269.09 293.72L1270.46 292.02L1271.84 290.92" stroke="#00f" stroke-width="4.3" stroke-linecap="square" stroke-dasharray="13.7 18.75"/>
<path d="M1051.64 301.53L1053.02 302.6L1054.39 304.25L1055.77 306.23L1057.14 308.46L1058.52 310.89L1059.9 313.49L1061.27 316.24L1062.65 319.12L1064.03 322.12L1065.4 325.23L1066.78 328.43L1068.15 331.72L1069.53 335.1L1070.91 338.54L1072.28 342.05L1073.66 345.62L1075.04 349.24L1076.41 352.91L1077.79 356.62L1079.16 360.37L1080.54 364.15L1081.92 367.96L1083.29 371.79L1084.67 375.64L1086.05 379.5L1087.42 383.37L1088.8 387.24L1090.17 391.12L1091.55 394.99L1092.93 398.86L1094.3 402.71L1095.68 406.55L1097.06 410.38L1098.43 414.18L1099.81 417.95L1101.18 421.7L1102.56 425.41L1103.94 429.08L1105.31 432.72L1106.69 436.32L1108.07 439.87L1109.44 443.37L1110.82 446.82L1112.19 450.21L1113.57 453.55L1114.95 456.82L1116.32 460.04L1117.7 463.18L1119.08 466.26L1120.45 469.27L1121.83 472.2L1123.2 475.06L1124.58 477.84L1125.96 480.54L1127.33 483.15L1128.71 485.68L1130.09 488.13L1131.46 490.48L1132.84 492.74L1134.21 494.92L1135.59 496.99L1136.97 498.97L1138.34 500.85L1139.72 502.63L1141.1 504.32L1142.47 505.89L1143.85 507.37L1145.22 508.74L1146.6 510.01L1147.98 511.17L1149.35 512.22L1150.73 513.16L1152.11 513.99L1153.48 514.72L1154.86 515.33L1156.24 515.83L1157.61 516.23L1158.99 516.51L1160.36 516.67L1161.74 516.73L1163.12 516.67L1164.49 516.51L1165.87 516.23L1167.25 515.83L1168.62 515.33L1170 514.72L1171.37 513.99L1172.75 513.16L1174.13 512.22L1175.5 511.17L1176.88 510.01L1178.26 508.74L1179.63 507.37L1181.01 505.89L1182.38 504.32L1183.76 502.63L1185.14 500.85L1186.51 498.97L1187.89 496.99L1189.27 494.92L1190.64 492.74L1192.02 490.48L1193.39 488.13L1194.77 485.68L1196.15 483.15L1197.52 480.54L1198.9 477.84L1200.28 475.06L1201.65 472.2L1203.03 469.27L1204.4 466.26L1205.78 463.18L1207.16 460.04L1208.53 456.82L1209.91 453.55L1211.29 450.21L1212.66 446.82L1214.04 443.37L1215.41 439.87L1216.79 436.32L1218.17 432.72L1219.54 429.08L1220.92 425.41L1222.3 421.7L1223.67 417.95L1225.05 414.18L1226.42 410.38L1227.8 406.55L1229.18 402.71L1230.55 398.86L1231.93 394.99L1233.31 391.12L1234.68 387.24L1236.06 383.37L1237.43 379.5L1238.81 375.64L1240.19 371.79L1241.56 367.96L1242.94 364.15L1244.32 360.37L1245.69 356.62L1247.07 352.91L1248.44 349.24L1249.82 345.62L1251.2 342.05L1252.57 338.54L1253.95 335.1L1255.33 331.72L1256.7 328.43L1258.08 325.23L1259.45 322.12L1260.83 319.12L1262.21 316.24L1263.58 313.49L1264.96 310.89L1266.34 308.46L1267.71 306.23L1269.09 304.25L1270.46 302.6L1271.84 301.53" stroke="#00f" stroke-width="4.3" stroke-linecap="square" stroke-dasharray="1 6 5.2 6.23"/>
<path d="M1051.64 308.18L1053.02 309.23L1054.39 310.85L1055.77 312.8L1057.14 314.99L1058.52 317.38L1059.9 319.93L1061.27 322.64L1062.65 325.47L1064.03 328.42L1065.4 331.48L1066.78 334.63L1068.15 337.87L1069.53 341.18L1070.91 344.57L1072.28 348.02L1073.66 351.53L1075.04 355.09L1076.41 358.7L1077.79 362.35L1079.16 366.04L1080.54 369.76L1081.92 373.5L1083.29 377.27L1084.67 381.05L1086.05 384.85L1087.42 388.65L1088.8 392.47L1090.17 396.28L1091.55 400.09L1092.93 403.89L1094.3 407.68L1095.68 411.46L1097.06 415.21L1098.43 418.95L1099.81 422.66L1101.18 426.35L1102.56 430L1103.94 433.61L1105.31 437.19L1106.69 440.72L1108.07 444.21L1109.44 447.66L1110.82 451.05L1112.19 454.39L1113.57 457.67L1114.95 460.89L1116.32 464.05L1117.7 467.14L1119.08 470.17L1120.45 473.13L1121.83 476.01L1123.2 478.82L1124.58 481.56L1125.96 484.21L1127.33 486.78L1128.71 489.27L1130.09 491.67L1131.46 493.99L1132.84 496.22L1134.21 498.35L1135.59 500.39L1136.97 502.34L1138.34 504.19L1139.72 505.94L1141.1 507.59L1142.47 509.15L1143.85 510.6L1145.22 511.95L1146.6 513.19L1147.98 514.33L1149.35 515.37L1150.73 516.29L1152.11 517.11L1153.48 517.82L1154.86 518.43L1156.24 518.92L1157.61 519.31L1158.99 519.58L1160.36 519.75L1161.74 519.8L1163.12 519.75L1164.49 519.58L1165.87 519.31L1167.25 518.92L1168.62 518.43L1170 517.82L1171.37 517.11L1172.75 516.29L1174.13 515.37L1175.5 514.33L1176.88 513.19L1178.26 511.95L1179.63 510.6L1181.01 509.15L1182.38 507.59L1183.76 505.94L1185.14 504.19L1186.51 502.34L1187.89 500.39L1189.27 498.35L1190.64 496.22L1192.02 493.99L1193.39 491.67L1194.77 489.27L1196.15 486.78L1197.52 484.21L1198.9 481.56L1200.28 478.82L1201.65 476.01L1203.03 473.13L1204.4 470.17L1205.78 467.14L1207.16 464.05L1208.53 460.89L1209.91 457.67L1211.29 454.39L1212.66 451.05L1214.04 447.66L1215.41 444.21L1216.79 440.72L1218.17 437.19L1219.54 433.61L1220.92 430L1222.3 426.35L1223.67 422.66L1225.05 418.95L1226.42 415.21L1227.8 411.46L1229.18 407.68L1230.55 403.89L1231.93 400.09L1233.31 396.28L1234.68 392.47L1236.06 388.65L1237.43 384.85L1238.81 381.05L1240.19 377.27L1241.56 373.5L1242.94 369.76L1244.32 366.04L1245.69 362.35L1247.07 358.7L1248.44 355.09L1249.82 351.53L1251.2 348.02L1252.57 344.57L1253.95 341.18L1255.33 337.87L1256.7 334.63L1258.08 331.48L1259.45 328.42L1260.83 325.47L1262.21 322.64L1263.58 319.93L1264.96 317.38L1266.34 314.99L1267.71 312.8L1269.09 310.85L1270.46 309.23L1271.84 308.18" stroke="#00f" stroke-width="4.3" stroke-linecap="square" stroke-dasharray="1 6.08"/>
<path d="M1271.84 268.81H1492.04" stroke="#000" stroke-width="4.3" stroke-linecap="square"/>
<path d="M1271.84 290.92H1492.04" stroke="#000" stroke-width="4.3" stroke-linecap="square" stroke-dasharray="13.7 18.75"/>
<path d="M1271.84 301.53H1492.04" stroke="#000" stroke-width="4.3" stroke-linecap="square" stroke-dasharray="1 6 5.2 6.23"/>
<path d="M1271.84 308.18H1492.04" stroke="#000" stroke-width="4.3" stroke-linecap="square" stroke-dasharray="1 6.08"/>
<path d="M1492.04 268.81L1493.42 268.77L1494.79 268.62L1496.17 268.35L1497.55 267.95L1498.92 267.42L1500.3 266.76L1501.67 265.97L1503.05 265.03L1504.43 263.96L1505.8 262.75L1507.18 261.4L1508.56 259.91L1509.93 258.28L1511.31 256.52L1512.68 254.62L1514.06 252.59L1515.44 250.42L1516.81 248.13L1518.19 245.71L1519.57 243.17L1520.94 240.51L1522.32 237.73L1523.69 234.85L1525.07 231.85L1526.45 228.75L1527.82 225.55L1529.2 222.26L1530.58 218.88L1531.95 215.41L1533.33 211.87L1534.7 208.26L1536.08 204.57L1537.46 200.83L1538.83 197.03L1540.21 193.18L1541.59 189.28L1542.96 185.35L1544.34 181.39L1545.71 177.41L1547.09 173.4L1548.47 169.39L1549.84 165.37L1551.22 161.36L1552.6 157.35L1553.97 153.36L1555.35 149.39L1556.72 145.45L1558.1 141.55L1559.48 137.68L1560.85 133.87L1562.23 130.11L1563.61 126.41L1564.98 122.78L1566.36 119.22L1567.73 115.74L1569.11 112.34L1570.49 109.04L1571.86 105.83L1573.24 102.73L1574.62 99.73L1575.99 96.84L1577.37 94.07L1578.74 91.43L1580.12 88.91L1581.5 86.52L1582.87 84.26L1584.25 82.14L1585.62 80.17L1587 78.34L1588.38 76.66L1589.75 75.13L1591.13 73.75L1592.51 72.53L1593.88 71.47L1595.26 70.57L1596.64 69.83L1598.01 69.25L1599.39 68.84L1600.76 68.59L1602.14 68.51L1603.52 68.59L1604.89 68.84L1606.27 69.25L1607.64 69.83L1609.02 70.57L1610.4 71.47L1611.77 72.53L1613.15 73.75L1614.53 75.13L1615.9 76.66L1617.28 78.34L1618.66 80.17L1620.03 82.14L1621.41 84.26L1622.78 86.52L1624.16 88.91L1625.54 91.43L1626.91 94.07L1628.29 96.84L1629.66 99.73L1631.04 102.73L1632.42 105.83L1633.79 109.04L1635.17 112.34L1636.55 115.74L1637.92 119.22L1639.3 122.78L1640.67 126.41L1642.05 130.11L1643.43 133.87L1644.8 137.68L1646.18 141.55L1647.56 145.45L1648.93 149.39L1650.31 153.36L1651.68 157.35L1653.06 161.36L1654.44 165.37L1655.81 169.39L1657.19 173.4L1658.57 177.41L1659.94 181.39L1661.32 185.35L1662.7 189.28L1664.07 193.18L1665.45 197.03L1666.82 200.83L1668.2 204.57L1669.58 208.26L1670.95 211.87L1672.33 215.41L1673.7 218.88L1675.08 222.26L1676.46 225.55L1677.83 228.75L1679.21 231.85L1680.59 234.85L1681.96 237.73L1683.34 240.51L1684.72 243.17L1686.09 245.71L1687.47 248.13L1688.84 250.42L1690.22 252.59L1691.6 254.62L1692.97 256.52L1694.35 258.28L1695.72 259.91L1697.1 261.4L1698.48 262.75L1699.85 263.96L1701.23 265.03L1702.61 265.97L1703.98 266.76L1705.36 267.42L1706.74 267.95L1708.11 268.35L1709.49 268.62L1710.86 268.77L1712.24 268.81" stroke="#f00" stroke-width="4.3" stroke-linecap="square"/>
<path d="M1492.04 290.92L1493.42 290.88L1494.79 290.74L1496.17 290.48L1497.55 290.1L1498.92 289.6L1500.3 288.98L1501.67 288.22L1503.05 287.34L1504.43 286.32L1505.8 285.17L1507.18 283.89L1508.56 282.47L1509.93 280.93L1511.31 279.26L1512.68 277.45L1514.06 275.52L1515.44 273.47L1516.81 271.3L1518.19 269L1519.57 266.59L1520.94 264.07L1522.32 261.43L1523.69 258.69L1525.07 255.85L1526.45 252.91L1527.82 249.87L1529.2 246.75L1530.58 243.54L1531.95 240.25L1533.33 236.89L1534.7 233.46L1536.08 229.96L1537.46 226.41L1538.83 222.8L1540.21 219.15L1541.59 215.45L1542.96 211.72L1544.34 207.97L1545.71 204.18L1547.09 200.39L1548.47 196.58L1549.84 192.76L1551.22 188.95L1552.6 185.15L1553.97 181.36L1555.35 177.6L1556.72 173.86L1558.1 170.15L1559.48 166.49L1560.85 162.87L1562.23 159.3L1563.61 155.79L1564.98 152.34L1566.36 148.96L1567.73 145.66L1569.11 142.44L1570.49 139.31L1571.86 136.26L1573.24 133.32L1574.62 130.47L1575.99 127.73L1577.37 125.1L1578.74 122.59L1580.12 120.2L1581.5 117.93L1582.87 115.79L1584.25 113.78L1585.62 111.91L1587 110.17L1588.38 108.58L1589.75 107.13L1591.13 105.82L1592.51 104.66L1593.88 103.65L1595.26 102.8L1596.64 102.1L1598.01 101.55L1599.39 101.16L1600.76 100.92L1602.14 100.85L1603.52 100.92L1604.89 101.16L1606.27 101.55L1607.64 102.1L1609.02 102.8L1610.4 103.65L1611.77 104.66L1613.15 105.82L1614.53 107.13L1615.9 108.58L1617.28 110.17L1618.66 111.91L1620.03 113.78L1621.41 115.79L1622.78 117.93L1624.16 120.2L1625.54 122.59L1626.91 125.1L1628.29 127.73L1629.66 130.47L1631.04 133.32L1632.42 136.26L1633.79 139.31L1635.17 142.44L1636.55 145.66L1637.92 148.96L1639.3 152.34L1640.67 155.79L1642.05 159.3L1643.43 162.87L1644.8 166.49L1646.18 170.15L1647.56 173.86L1648.93 177.6L1650.31 181.36L1651.68 185.15L1653.06 188.95L1654.44 192.76L1655.81 196.58L1657.19 200.39L1658.57 204.18L1659.94 207.97L1661.32 211.72L1662.7 215.45L1664.07 219.15L1665.45 222.8L1666.82 226.41L1668.2 229.96L1669.58 233.46L1670.95 236.89L1672.33 240.25L1673.7 243.54L1675.08 246.75L1676.46 249.87L1677.83 252.91L1679.21 255.85L1680.59 258.69L1681.96 261.43L1683.34 264.07L1684.72 266.59L1686.09 269L1687.47 271.3L1688.84 273.47L1690.22 275.52L1691.6 277.45L1692.97 279.26L1694.35 280.93L1695.72 282.47L1697.1 283.89L1698.48 285.17L1699.85 286.32L1701.23 287.34L1702.61 288.22L1703.98 288.98L1705.36 289.6L1706.74 290.1L1708.11 290.48L1709.49 290.74L1710.86 290.88L1712.24 290.92" stroke="#f00" stroke-width="4.3" stroke-linecap="square" stroke-dasharray="13.7 18.75"/>
<path d="M1492.04 301.53L1493.42 301.49L1494.79 301.35L1496.17 301.1L1497.55 300.73L1498.92 300.25L1500.3 299.64L1501.67 298.9L1503.05 298.04L1504.43 297.05L1505.8 295.93L1507.18 294.68L1508.56 293.3L1509.93 291.8L1511.31 290.17L1512.68 288.41L1514.06 286.53L1515.44 284.53L1516.81 282.41L1518.19 280.18L1519.57 277.83L1520.94 275.37L1522.32 272.8L1523.69 270.13L1525.07 267.36L1526.45 264.5L1527.82 261.54L1529.2 258.5L1530.58 255.37L1531.95 252.17L1533.33 248.89L1534.7 245.55L1536.08 242.14L1537.46 238.68L1538.83 235.17L1540.21 231.61L1541.59 228.01L1542.96 224.38L1544.34 220.72L1545.71 217.03L1547.09 213.33L1548.47 209.62L1549.84 205.91L1551.22 202.2L1552.6 198.49L1553.97 194.8L1555.35 191.13L1556.72 187.49L1558.1 183.88L1559.48 180.31L1560.85 176.78L1562.23 173.31L1563.61 169.89L1564.98 166.53L1566.36 163.24L1567.73 160.02L1569.11 156.88L1570.49 153.83L1571.86 150.86L1573.24 147.99L1574.62 145.22L1575.99 142.55L1577.37 139.99L1578.74 137.55L1580.12 135.22L1581.5 133.01L1582.87 130.92L1584.25 128.96L1585.62 127.14L1587 125.45L1588.38 123.89L1589.75 122.48L1591.13 121.21L1592.51 120.08L1593.88 119.1L1595.26 118.27L1596.64 117.58L1598.01 117.05L1599.39 116.67L1600.76 116.44L1602.14 116.36L1603.52 116.44L1604.89 116.67L1606.27 117.05L1607.64 117.58L1609.02 118.27L1610.4 119.1L1611.77 120.08L1613.15 121.21L1614.53 122.48L1615.9 123.89L1617.28 125.45L1618.66 127.14L1620.03 128.96L1621.41 130.92L1622.78 133.01L1624.16 135.22L1625.54 137.55L1626.91 139.99L1628.29 142.55L1629.66 145.22L1631.04 147.99L1632.42 150.86L1633.79 153.83L1635.17 156.88L1636.55 160.02L1637.92 163.24L1639.3 166.53L1640.67 169.89L1642.05 173.31L1643.43 176.78L1644.8 180.31L1646.18 183.88L1647.56 187.49L1648.93 191.13L1650.31 194.8L1651.68 198.49L1653.06 202.2L1654.44 205.91L1655.81 209.62L1657.19 213.33L1658.57 217.03L1659.94 220.72L1661.32 224.38L1662.7 228.01L1664.07 231.61L1665.45 235.17L1666.82 238.68L1668.2 242.14L1669.58 245.55L1670.95 248.89L1672.33 252.17L1673.7 255.37L1675.08 258.5L1676.46 261.54L1677.83 264.5L1679.21 267.36L1680.59 270.13L1681.96 272.8L1683.34 275.37L1684.72 277.83L1686.09 280.18L1687.47 282.41L1688.84 284.53L1690.22 286.53L1691.6 288.41L1692.97 290.17L1694.35 291.8L1695.72 293.3L1697.1 294.68L1698.48 295.93L1699.85 297.05L1701.23 298.04L1702.61 298.9L1703.98 299.64L1705.36 300.25L1706.74 300.73L1708.11 301.1L1709.49 301.35L1710.86 301.49L1712.24 301.53" stroke="#f00" stroke-width="4.3" stroke-linecap="square" stroke-dasharray="1 6 5.2 6.23"/>
<path d="M1492.04 308.18L1493.42 308.13L1494.79 308L1496.17 307.75L1497.55 307.39L1498.92 306.91L1500.3 306.31L1501.67 305.59L1503.05 304.74L1504.43 303.76L1505.8 302.66L1507.18 301.43L1508.56 300.08L1509.93 298.6L1511.31 297L1512.68 295.27L1514.06 293.42L1515.44 291.46L1516.81 289.37L1518.19 287.17L1519.57 284.86L1520.94 282.44L1522.32 279.92L1523.69 277.3L1525.07 274.57L1526.45 271.75L1527.82 268.85L1529.2 265.85L1530.58 262.78L1531.95 259.63L1533.33 256.41L1534.7 253.12L1536.08 249.77L1537.46 246.37L1538.83 242.91L1540.21 239.41L1541.59 235.87L1542.96 232.3L1544.34 228.7L1545.71 225.08L1547.09 221.44L1548.47 217.79L1549.84 214.14L1551.22 210.49L1552.6 206.84L1553.97 203.22L1555.35 199.61L1556.72 196.03L1558.1 192.48L1559.48 188.96L1560.85 185.49L1562.23 182.08L1563.61 178.71L1564.98 175.41L1566.36 172.18L1567.73 169.01L1569.11 165.93L1570.49 162.92L1571.86 160.01L1573.24 157.18L1574.62 154.46L1575.99 151.83L1577.37 149.32L1578.74 146.91L1580.12 144.62L1581.5 142.45L1582.87 140.4L1584.25 138.47L1585.62 136.68L1587 135.01L1588.38 133.48L1589.75 132.09L1591.13 130.84L1592.51 129.73L1593.88 128.77L1595.26 127.95L1596.64 127.28L1598.01 126.75L1599.39 126.38L1600.76 126.15L1602.14 126.08L1603.52 126.15L1604.89 126.38L1606.27 126.75L1607.64 127.28L1609.02 127.95L1610.4 128.77L1611.77 129.73L1613.15 130.84L1614.53 132.09L1615.9 133.48L1617.28 135.01L1618.66 136.68L1620.03 138.47L1621.41 140.4L1622.78 142.45L1624.16 144.62L1625.54 146.91L1626.91 149.32L1628.29 151.83L1629.66 154.46L1631.04 157.18L1632.42 160.01L1633.79 162.92L1635.17 165.93L1636.55 169.01L1637.92 172.18L1639.3 175.41L1640.67 178.71L1642.05 182.08L1643.43 185.49L1644.8 188.96L1646.18 192.48L1647.56 196.03L1648.93 199.61L1650.31 203.22L1651.68 206.84L1653.06 210.49L1654.44 214.14L1655.81 217.79L1657.19 221.44L1658.57 225.08L1659.94 228.7L1661.32 232.3L1662.7 235.87L1664.07 239.41L1665.45 242.91L1666.82 246.37L1668.2 249.77L1669.58 253.12L1670.95 256.41L1672.33 259.63L1673.7 262.78L1675.08 265.85L1676.46 268.85L1677.83 271.75L1679.21 274.57L1680.59 277.3L1681.96 279.92L1683.34 282.44L1684.72 284.86L1686.09 287.17L1687.47 289.37L1688.84 291.46L1690.22 293.42L1691.6 295.27L1692.97 297L1694.35 298.6L1695.72 300.08L1697.1 301.43L1698.48 302.66L1699.85 303.76L1701.23 304.74L1702.61 305.59L1703.98 306.31L1705.36 306.91L1706.74 307.39L1708.11 307.75L1709.49 308L1710.86 308.13L1712.24 308.18" stroke="#f00" stroke-width="4.3" stroke-linecap="square" stroke-dasharray="1 6.08"/>
<path d="M1712.24 268.81H1756.28" stroke="#000" stroke-width="4.3" stroke-linecap="square"/>
<path d="M1712.24 290.92H1756.28" stroke="#000" stroke-width="4.3" stroke-linecap="square" stroke-dasharray="13.7 18.75"/>
<path d="M1712.24 301.53H1756.28" stroke="#000" stroke-width="4.3" stroke-linecap="square" stroke-dasharray="1 6 5.2 6.23"/>
<path d="M1712.24 308.18H1756.28" stroke="#000" stroke-width="4.3" stroke-linecap="square" stroke-dasharray="1 6.08"/>
</g>
<rect class="frame" x="992.05" y="53.4" width="779.45" height="481.8"/>
<path class="ticks" d="M1007.6 535.2v-6M1007.6 53.4v6M1117.7 535.2v-6M1117.7 53.4v6M1227.8 535.2v-6M1227.8 53.4v6M1337.9 535.2v-6M1337.9 53.4v6M1448 535.2v-6M1448 53.4v6M1558.1 535.2v-6M1558.1 53.4v6M1668.2 535.2v-6M1668.2 53.4v6M1029.62 535.2v-3.6M1029.62 53.4v3.6M1051.64 535.2v-3.6M1051.64 53.4v3.6M1073.66 535.2v-3.6M1073.66 53.4v3.6M1095.68 535.2v-3.6M1095.68 53.4v3.6M1139.72 535.2v-3.6M1139.72 53.4v3.6M1161.74 535.2v-3.6M1161.74 53.4v3.6M1183.76 535.2v-3.6M1183.76 53.4v3.6M1205.78 535.2v-3.6M1205.78 53.4v3.6M1249.82 535.2v-3.6M1249.82 53.4v3.6M1271.84 535.2v-3.6M1271.84 53.4v3.6M1293.86 535.2v-3.6M1293.86 53.4v3.6M1315.88 535.2v-3.6M1315.88 53.4v3.6M1359.92 535.2v-3.6M1359.92 53.4v3.6M1381.94 535.2v-3.6M1381.94 53.4v3.6M1403.96 535.2v-3.6M1403.96 53.4v3.6M1425.98 535.2v-3.6M1425.98 53.4v3.6M1470.02 535.2v-3.6M1470.02 53.4v3.6M1492.04 535.2v-3.6M1492.04 53.4v3.6M1514.06 535.2v-3.6M1514.06 53.4v3.6M1536.08 535.2v-3.6M1536.08 53.4v3.6M1580.12 535.2v-3.6M1580.12 53.4v3.6M1602.14 535.2v-3.6M1602.14 53.4v3.6M1624.16 535.2v-3.6M1624.16 53.4v3.6M1646.18 535.2v-3.6M1646.18 53.4v3.6M1690.22 535.2v-3.6M1690.22 53.4v3.6M1712.24 535.2v-3.6M1712.24 53.4v3.6M1734.26 535.2v-3.6M1734.26 53.4v3.6M1756.28 535.2v-3.6M1756.28 53.4v3.6M992.05 503.6h6M1771.5 503.6h-6M992.05 404.45h6M1771.5 404.45h-6M992.05 305.3h6M1771.5 305.3h-6M992.05 206.15h6M1771.5 206.15h-6M992.05 107h6M1771.5 107h-6M992.05 523.43h3.6M1771.5 523.43h-3.6M992.05 483.77h3.6M1771.5 483.77h-3.6M992.05 463.94h3.6M1771.5 463.94h-3.6M992.05 444.11h3.6M1771.5 444.11h-3.6M992.05 424.28h3.6M1771.5 424.28h-3.6M992.05 384.62h3.6M1771.5 384.62h-3.6M992.05 364.79h3.6M1771.5 364.79h-3.6M992.05 344.96h3.6M1771.5 344.96h-3.6M992.05 325.13h3.6M1771.5 325.13h-3.6M992.05 285.47h3.6M1771.5 285.47h-3.6M992.05 265.64h3.6M1771.5 265.64h-3.6M992.05 245.81h3.6M1771.5 245.81h-3.6M992.05 225.98h3.6M1771.5 225.98h-3.6M992.05 186.32h3.6M1771.5 186.32h-3.6M992.05 166.49h3.6M1771.5 166.49h-3.6M992.05 146.66h3.6M1771.5 146.66h-3.6M992.05 126.83h3.6M1771.5 126.83h-3.6M992.05 87.17h3.6M1771.5 87.17h-3.6M992.05 67.34h3.6M1771.5 67.34h-3.6"/>
<text class="tl" transform="translate(1007.6 562) scale(0.985 1)" font-size="26" text-anchor="middle">0.0</text>
<text class="tl" transform="translate(1117.7 562) scale(0.985 1)" font-size="26" text-anchor="middle">0.5</text>
<text class="tl" transform="translate(1227.8 562) scale(0.985 1)" font-size="26" text-anchor="middle">1.0</text>
<text class="tl" transform="translate(1337.9 562) scale(0.985 1)" font-size="26" text-anchor="middle">1.5</text>
<text class="tl" transform="translate(1448 562) scale(0.985 1)" font-size="26" text-anchor="middle">2.0</text>
<text class="tl" transform="translate(1558.1 562) scale(0.985 1)" font-size="26" text-anchor="middle">2.5</text>
<text class="tl" transform="translate(1668.2 562) scale(0.985 1)" font-size="26" text-anchor="middle">3.0</text>
<text class="tl" transform="translate(987.7 512.3) scale(0.985 1)" font-size="26" text-anchor="end">2</text>
<text class="tl" transform="translate(987.7 413.15) scale(0.985 1)" font-size="26" text-anchor="end">3</text>
<text class="tl" transform="translate(987.7 314) scale(0.985 1)" font-size="26" text-anchor="end">4</text>
<text class="tl" transform="translate(987.7 214.85) scale(0.985 1)" font-size="26" text-anchor="end">5</text>
<text class="tl" transform="translate(987.7 115.7) scale(0.985 1)" font-size="26" text-anchor="end">6</text>
<text transform="translate(1382.1 31.2) scale(1 0.96)" font-size="40" text-anchor="middle">(b)</text>
<text transform="translate(1382.2 603.7) scale(1 1.03)" font-size="40" font-style="italic" text-anchor="middle">z</text>
<text transform="translate(947.05 315.8) rotate(-90) scale(0.98 1.14)" font-size="40" font-weight="bold">τ</text>
<text transform="translate(956.6 284.5) rotate(-90)" font-size="21.4" font-style="italic">χ</text>
<g class="leg">
<path d="M1039.4 103.4H1064.5" stroke="#b4b4ff" stroke-width="1.1" stroke-linecap="square"/>
<path d="M1039.4 146.2H1064.5" stroke="#b4b4ff" stroke-width="1.1" stroke-linecap="square" stroke-dasharray="13.7 18.75"/>
<path d="M1039.4 189.5H1064.5" stroke="#b4b4ff" stroke-width="1.1" stroke-linecap="square" stroke-dasharray="1 6 5.2 6.23"/>
<path d="M1039.4 232.3H1064.5" stroke="#b4b4ff" stroke-width="1.1" stroke-linecap="square" stroke-dasharray="1 6.08"/>
</g>
<text transform="translate(1072.86 109) scale(0.99 1)" font-size="35" font-family="'DejaVu Serif',serif">λ</text><text x="1097.5" y="114.6" font-size="26" font-weight="bold">1</text>
<text class="eq" transform="translate(1120.9 115.24) scale(1.25 1.374)" font-size="36" font-weight="bold">=</text>
<text transform="translate(1154.9 108.6) scale(1.017 1)" font-size="36" font-weight="bold">0.1</text>
<text transform="translate(1072.86 152.2) scale(0.99 1)" font-size="35" font-family="'DejaVu Serif',serif">λ</text><text x="1097.5" y="157.8" font-size="26" font-weight="bold">1</text>
<text class="eq" transform="translate(1120.9 158.44) scale(1.25 1.374)" font-size="36" font-weight="bold">=</text>
<text transform="translate(1154.9 151.8) scale(1.017 1)" font-size="36" font-weight="bold">0.2</text>
<text transform="translate(1072.86 195.1) scale(0.99 1)" font-size="35" font-family="'DejaVu Serif',serif">λ</text><text x="1097.5" y="200.7" font-size="26" font-weight="bold">1</text>
<text class="eq" transform="translate(1120.9 201.34) scale(1.25 1.374)" font-size="36" font-weight="bold">=</text>
<text transform="translate(1154.9 194.7) scale(1.017 1)" font-size="36" font-weight="bold">0.3</text>
<text transform="translate(1072.86 237.25) scale(0.99 1)" font-size="35" font-family="'DejaVu Serif',serif">λ</text><text x="1097.5" y="242.85" font-size="26" font-weight="bold">1</text>
<text class="eq" transform="translate(1120.9 243.49) scale(1.25 1.374)" font-size="36" font-weight="bold">=</text>
<text transform="translate(1154.9 236.85) scale(1.017 1)" font-size="36" font-weight="bold">0.4</text>
<text transform="translate(1268.7 143.4) scale(1.025 0.965)" font-size="36" font-weight="bold">Red: Dilatation</text>
<text transform="translate(1268.7 195.5) scale(1.025 0.965)" font-size="36" font-weight="bold">Blue: Stenosis</text>
</g>
<g id="panel-c">
<path class="grid" d="M216.97 677.8V1152M325.28 677.8V1152M433.6 677.8V1152M541.91 677.8V1152M650.23 677.8V1152M758.54 677.8V1152M93.5 1109.5H860.55M93.5 1047.54H860.55M93.5 985.58H860.55M93.5 923.62H860.55M93.5 861.66H860.55M93.5 799.7H860.55M93.5 737.74H860.55"/>
<rect x="362.1" y="719.5" width="253.5" height="94.7" fill="#fff"/>
<g class="curves">
<path d="M108.65 889.42H151.98" stroke="#000" stroke-width="4.3" stroke-linecap="square"/>
<path d="M108.65 1012.72H151.98" stroke="#000" stroke-width="4.3" stroke-linecap="square" stroke-dasharray="13.7 18.75"/>
<path d="M108.65 1060.27H151.98" stroke="#000" stroke-width="4.3" stroke-linecap="square" stroke-dasharray="1 6 5.2 6.23"/>
<path d="M108.65 1086.48H151.98" stroke="#000" stroke-width="4.3" stroke-linecap="square" stroke-dasharray="1 6.08"/>
<path d="M151.98 889.42L153.33 889.48L154.68 889.67L156.04 889.98L157.39 890.42L158.75 890.98L160.1 891.66L161.45 892.46L162.81 893.38L164.16 894.42L165.52 895.57L166.87 896.82L168.22 898.19L169.58 899.66L170.93 901.24L172.29 902.91L173.64 904.67L174.99 906.52L176.35 908.46L177.7 910.48L179.05 912.58L180.41 914.75L181.76 916.99L183.12 919.28L184.47 921.64L185.82 924.05L187.18 926.51L188.53 929.01L189.89 931.55L191.24 934.13L192.59 936.73L193.95 939.35L195.3 942L196.66 944.66L198.01 947.33L199.36 950L200.72 952.67L202.07 955.34L203.43 958L204.78 960.65L206.13 963.28L207.49 965.89L208.84 968.48L210.2 971.03L211.55 973.56L212.9 976.05L214.26 978.5L215.61 980.91L216.97 983.27L218.32 985.59L219.67 987.86L221.03 990.07L222.38 992.23L223.73 994.32L225.09 996.36L226.44 998.34L227.8 1000.25L229.15 1002.1L230.5 1003.88L231.86 1005.59L233.21 1007.23L234.57 1008.79L235.92 1010.29L237.27 1011.7L238.63 1013.05L239.98 1014.31L241.34 1015.5L242.69 1016.61L244.04 1017.64L245.4 1018.59L246.75 1019.46L248.11 1020.25L249.46 1020.95L250.81 1021.58L252.17 1022.12L253.52 1022.58L254.88 1022.95L256.23 1023.25L257.58 1023.46L258.94 1023.58L260.29 1023.62L261.64 1023.58L263 1023.46L264.35 1023.25L265.71 1022.95L267.06 1022.58L268.41 1022.12L269.77 1021.58L271.12 1020.95L272.48 1020.25L273.83 1019.46L275.18 1018.59L276.54 1017.64L277.89 1016.61L279.25 1015.5L280.6 1014.31L281.95 1013.05L283.31 1011.7L284.66 1010.29L286.02 1008.79L287.37 1007.23L288.72 1005.59L290.08 1003.88L291.43 1002.1L292.79 1000.25L294.14 998.34L295.49 996.36L296.85 994.32L298.2 992.23L299.56 990.07L300.91 987.86L302.26 985.59L303.62 983.27L304.97 980.91L306.32 978.5L307.68 976.05L309.03 973.56L310.39 971.03L311.74 968.48L313.09 965.89L314.45 963.28L315.8 960.65L317.16 958L318.51 955.34L319.86 952.67L321.22 950L322.57 947.33L323.93 944.66L325.28 942L326.63 939.35L327.99 936.73L329.34 934.13L330.7 931.55L332.05 929.01L333.4 926.51L334.76 924.05L336.11 921.64L337.47 919.28L338.82 916.99L340.17 914.75L341.53 912.58L342.88 910.48L344.24 908.46L345.59 906.52L346.94 904.67L348.3 902.91L349.65 901.24L351 899.66L352.36 898.19L353.71 896.82L355.07 895.57L356.42 894.42L357.77 893.38L359.13 892.46L360.48 891.66L361.84 890.98L363.19 890.42L364.54 889.98L365.9 889.67L367.25 889.48L368.61 889.42" stroke="#00f" stroke-width="4.3" stroke-linecap="square"/>
<path d="M151.98 1012.72L153.33 1012.76L154.68 1012.87L156.04 1013.05L157.39 1013.31L158.75 1013.65L160.1 1014.05L161.45 1014.53L162.81 1015.08L164.16 1015.7L165.52 1016.38L166.87 1017.14L168.22 1017.95L169.58 1018.83L170.93 1019.77L172.29 1020.77L173.64 1021.82L174.99 1022.93L176.35 1024.09L177.7 1025.3L179.05 1026.56L180.41 1027.86L181.76 1029.2L183.12 1030.58L184.47 1031.99L185.82 1033.44L187.18 1034.91L188.53 1036.42L189.89 1037.95L191.24 1039.49L192.59 1041.06L193.95 1042.64L195.3 1044.24L196.66 1045.84L198.01 1047.45L199.36 1049.07L200.72 1050.68L202.07 1052.3L203.43 1053.91L204.78 1055.51L206.13 1057.11L207.49 1058.69L208.84 1060.26L210.2 1061.81L211.55 1063.35L212.9 1064.86L214.26 1066.35L215.61 1067.82L216.97 1069.26L218.32 1070.67L219.67 1072.06L221.03 1073.41L222.38 1074.73L223.73 1076.01L225.09 1077.26L226.44 1078.47L227.8 1079.64L229.15 1080.77L230.5 1081.86L231.86 1082.91L233.21 1083.92L234.57 1084.88L235.92 1085.79L237.27 1086.67L238.63 1087.49L239.98 1088.27L241.34 1089L242.69 1089.69L244.04 1090.32L245.4 1090.91L246.75 1091.44L248.11 1091.93L249.46 1092.36L250.81 1092.75L252.17 1093.08L253.52 1093.37L254.88 1093.6L256.23 1093.78L257.58 1093.91L258.94 1093.98L260.29 1094.01L261.64 1093.98L263 1093.91L264.35 1093.78L265.71 1093.6L267.06 1093.37L268.41 1093.08L269.77 1092.75L271.12 1092.36L272.48 1091.93L273.83 1091.44L275.18 1090.91L276.54 1090.32L277.89 1089.69L279.25 1089L280.6 1088.27L281.95 1087.49L283.31 1086.67L284.66 1085.79L286.02 1084.88L287.37 1083.92L288.72 1082.91L290.08 1081.86L291.43 1080.77L292.79 1079.64L294.14 1078.47L295.49 1077.26L296.85 1076.01L298.2 1074.73L299.56 1073.41L300.91 1072.06L302.26 1070.67L303.62 1069.26L304.97 1067.82L306.32 1066.35L307.68 1064.86L309.03 1063.35L310.39 1061.81L311.74 1060.26L313.09 1058.69L314.45 1057.11L315.8 1055.51L317.16 1053.91L318.51 1052.3L319.86 1050.68L321.22 1049.07L322.57 1047.45L323.93 1045.84L325.28 1044.24L326.63 1042.64L327.99 1041.06L329.34 1039.49L330.7 1037.95L332.05 1036.42L333.4 1034.91L334.76 1033.44L336.11 1031.99L337.47 1030.58L338.82 1029.2L340.17 1027.86L341.53 1026.56L342.88 1025.3L344.24 1024.09L345.59 1022.93L346.94 1021.82L348.3 1020.77L349.65 1019.77L351 1018.83L352.36 1017.95L353.71 1017.14L355.07 1016.38L356.42 1015.7L357.77 1015.08L359.13 1014.53L360.48 1014.05L361.84 1013.65L363.19 1013.31L364.54 1013.05L365.9 1012.87L367.25 1012.76L368.61 1012.72" stroke="#00f" stroke-width="4.3" stroke-linecap="square" stroke-dasharray="13.7 18.75"/>
<path d="M151.98 1060.27L153.33 1060.3L154.68 1060.38L156.04 1060.52L157.39 1060.72L158.75 1060.97L160.1 1061.27L161.45 1061.63L162.81 1062.03L164.16 1062.5L165.52 1063.01L166.87 1063.57L168.22 1064.18L169.58 1064.83L170.93 1065.53L172.29 1066.28L173.64 1067.07L174.99 1067.9L176.35 1068.76L177.7 1069.67L179.05 1070.61L180.41 1071.58L181.76 1072.58L183.12 1073.61L184.47 1074.67L185.82 1075.76L187.18 1076.86L188.53 1077.99L189.89 1079.14L191.24 1080.3L192.59 1081.47L193.95 1082.66L195.3 1083.86L196.66 1085.06L198.01 1086.27L199.36 1087.49L200.72 1088.7L202.07 1089.92L203.43 1091.13L204.78 1092.34L206.13 1093.54L207.49 1094.74L208.84 1095.92L210.2 1097.09L211.55 1098.25L212.9 1099.4L214.26 1100.52L215.61 1101.63L216.97 1102.72L218.32 1103.79L219.67 1104.84L221.03 1105.86L222.38 1106.86L223.73 1107.83L225.09 1108.78L226.44 1109.7L227.8 1110.59L229.15 1111.44L230.5 1112.27L231.86 1113.07L233.21 1113.83L234.57 1114.57L235.92 1115.26L237.27 1115.93L238.63 1116.55L239.98 1117.15L241.34 1117.7L242.69 1118.22L244.04 1118.71L245.4 1119.15L246.75 1119.56L248.11 1119.93L249.46 1120.26L250.81 1120.56L252.17 1120.81L253.52 1121.03L254.88 1121.21L256.23 1121.34L257.58 1121.44L258.94 1121.5L260.29 1121.52L261.64 1121.5L263 1121.44L264.35 1121.34L265.71 1121.21L267.06 1121.03L268.41 1120.81L269.77 1120.56L271.12 1120.26L272.48 1119.93L273.83 1119.56L275.18 1119.15L276.54 1118.71L277.89 1118.22L279.25 1117.7L280.6 1117.15L281.95 1116.55L283.31 1115.93L284.66 1115.26L286.02 1114.57L287.37 1113.83L288.72 1113.07L290.08 1112.27L291.43 1111.44L292.79 1110.59L294.14 1109.7L295.49 1108.78L296.85 1107.83L298.2 1106.86L299.56 1105.86L300.91 1104.84L302.26 1103.79L303.62 1102.72L304.97 1101.63L306.32 1100.52L307.68 1099.4L309.03 1098.25L310.39 1097.09L311.74 1095.92L313.09 1094.74L314.45 1093.54L315.8 1092.34L317.16 1091.13L318.51 1089.92L319.86 1088.7L321.22 1087.49L322.57 1086.27L323.93 1085.06L325.28 1083.86L326.63 1082.66L327.99 1081.47L329.34 1080.3L330.7 1079.14L332.05 1077.99L333.4 1076.86L334.76 1075.76L336.11 1074.67L337.47 1073.61L338.82 1072.58L340.17 1071.58L341.53 1070.61L342.88 1069.67L344.24 1068.76L345.59 1067.9L346.94 1067.07L348.3 1066.28L349.65 1065.53L351 1064.83L352.36 1064.18L353.71 1063.57L355.07 1063.01L356.42 1062.5L357.77 1062.03L359.13 1061.63L360.48 1061.27L361.84 1060.97L363.19 1060.72L364.54 1060.52L365.9 1060.38L367.25 1060.3L368.61 1060.27" stroke="#00f" stroke-width="4.3" stroke-linecap="square" stroke-dasharray="1 6 5.2 6.23"/>
<path d="M151.98 1086.48L153.33 1086.5L154.68 1086.57L156.04 1086.69L157.39 1086.84L158.75 1087.04L160.1 1087.29L161.45 1087.58L162.81 1087.91L164.16 1088.29L165.52 1088.7L166.87 1089.16L168.22 1089.65L169.58 1090.19L170.93 1090.76L172.29 1091.36L173.64 1092L174.99 1092.68L176.35 1093.38L177.7 1094.12L179.05 1094.88L180.41 1095.67L181.76 1096.49L183.12 1097.33L184.47 1098.19L185.82 1099.08L187.18 1099.98L188.53 1100.9L189.89 1101.83L191.24 1102.78L192.59 1103.74L193.95 1104.71L195.3 1105.69L196.66 1106.67L198.01 1107.66L199.36 1108.65L200.72 1109.65L202.07 1110.64L203.43 1111.64L204.78 1112.62L206.13 1113.61L207.49 1114.59L208.84 1115.56L210.2 1116.52L211.55 1117.47L212.9 1118.41L214.26 1119.33L215.61 1120.25L216.97 1121.14L218.32 1122.02L219.67 1122.88L221.03 1123.72L222.38 1124.54L223.73 1125.34L225.09 1126.12L226.44 1126.88L227.8 1127.61L229.15 1128.32L230.5 1129L231.86 1129.66L233.21 1130.29L234.57 1130.89L235.92 1131.47L237.27 1132.02L238.63 1132.53L239.98 1133.02L241.34 1133.48L242.69 1133.91L244.04 1134.31L245.4 1134.68L246.75 1135.02L248.11 1135.32L249.46 1135.6L250.81 1135.84L252.17 1136.05L253.52 1136.23L254.88 1136.38L256.23 1136.49L257.58 1136.57L258.94 1136.62L260.29 1136.64L261.64 1136.62L263 1136.57L264.35 1136.49L265.71 1136.38L267.06 1136.23L268.41 1136.05L269.77 1135.84L271.12 1135.6L272.48 1135.32L273.83 1135.02L275.18 1134.68L276.54 1134.31L277.89 1133.91L279.25 1133.48L280.6 1133.02L281.95 1132.53L283.31 1132.02L284.66 1131.47L286.02 1130.89L287.37 1130.29L288.72 1129.66L290.08 1129L291.43 1128.32L292.79 1127.61L294.14 1126.88L295.49 1126.12L296.85 1125.34L298.2 1124.54L299.56 1123.72L300.91 1122.88L302.26 1122.02L303.62 1121.14L304.97 1120.25L306.32 1119.33L307.68 1118.41L309.03 1117.47L310.39 1116.52L311.74 1115.56L313.09 1114.59L314.45 1113.61L315.8 1112.62L317.16 1111.64L318.51 1110.64L319.86 1109.65L321.22 1108.65L322.57 1107.66L323.93 1106.67L325.28 1105.69L326.63 1104.71L327.99 1103.74L329.34 1102.78L330.7 1101.83L332.05 1100.9L333.4 1099.98L334.76 1099.08L336.11 1098.19L337.47 1097.33L338.82 1096.49L340.17 1095.67L341.53 1094.88L342.88 1094.12L344.24 1093.38L345.59 1092.68L346.94 1092L348.3 1091.36L349.65 1090.76L351 1090.19L352.36 1089.65L353.71 1089.16L355.07 1088.7L356.42 1088.29L357.77 1087.91L359.13 1087.58L360.48 1087.29L361.84 1087.04L363.19 1086.84L364.54 1086.69L365.9 1086.57L367.25 1086.5L368.61 1086.48" stroke="#00f" stroke-width="4.3" stroke-linecap="square" stroke-dasharray="1 6.08"/>
<path d="M368.61 889.42H585.24" stroke="#000" stroke-width="4.3" stroke-linecap="square"/>
<path d="M368.61 1012.72H585.24" stroke="#000" stroke-width="4.3" stroke-linecap="square" stroke-dasharray="13.7 18.75"/>
<path d="M368.61 1060.27H585.24" stroke="#000" stroke-width="4.3" stroke-linecap="square" stroke-dasharray="1 6 5.2 6.23"/>
<path d="M368.61 1086.48H585.24" stroke="#000" stroke-width="4.3" stroke-linecap="square" stroke-dasharray="1 6.08"/>
<path d="M585.24 889.42L586.59 889.36L587.94 889.17L589.3 888.86L590.65 888.42L592.01 887.86L593.36 887.18L594.71 886.37L596.07 885.44L597.42 884.39L598.78 883.21L600.13 881.92L601.48 880.5L602.84 878.97L604.19 877.32L605.55 875.55L606.9 873.67L608.25 871.68L609.61 869.57L610.96 867.36L612.31 865.03L613.67 862.6L615.02 860.07L616.38 857.44L617.73 854.7L619.08 851.87L620.44 848.95L621.79 845.94L623.15 842.84L624.5 839.66L625.85 836.39L627.21 833.06L628.56 829.64L629.92 826.16L631.27 822.62L632.62 819.02L633.98 815.36L635.33 811.66L636.69 807.91L638.04 804.12L639.39 800.3L640.75 796.45L642.1 792.57L643.46 788.69L644.81 784.79L646.16 780.89L647.52 776.99L648.87 773.1L650.23 769.23L651.58 765.38L652.93 761.56L654.29 757.78L655.64 754.04L656.99 750.35L658.35 746.72L659.7 743.15L661.06 739.66L662.41 736.24L663.76 732.92L665.12 729.68L666.47 726.54L667.83 723.51L669.18 720.59L670.53 717.79L671.89 715.11L673.24 712.57L674.6 710.16L675.95 707.89L677.3 705.77L678.66 703.8L680.01 701.98L681.37 700.33L682.72 698.83L684.07 697.51L685.43 696.36L686.78 695.37L688.14 694.57L689.49 693.94L690.84 693.49L692.2 693.22L693.55 693.13L694.9 693.22L696.26 693.49L697.61 693.94L698.97 694.57L700.32 695.37L701.67 696.36L703.03 697.51L704.38 698.83L705.74 700.33L707.09 701.98L708.44 703.8L709.8 705.77L711.15 707.89L712.51 710.16L713.86 712.57L715.21 715.11L716.57 717.79L717.92 720.59L719.28 723.51L720.63 726.54L721.98 729.68L723.34 732.92L724.69 736.24L726.05 739.66L727.4 743.15L728.75 746.72L730.11 750.35L731.46 754.04L732.82 757.78L734.17 761.56L735.52 765.38L736.88 769.23L738.23 773.1L739.58 776.99L740.94 780.89L742.29 784.79L743.65 788.69L745 792.57L746.35 796.45L747.71 800.3L749.06 804.12L750.42 807.91L751.77 811.66L753.12 815.36L754.48 819.02L755.83 822.62L757.19 826.16L758.54 829.64L759.89 833.06L761.25 836.39L762.6 839.66L763.96 842.84L765.31 845.94L766.66 848.95L768.02 851.87L769.37 854.7L770.73 857.44L772.08 860.07L773.43 862.6L774.79 865.03L776.14 867.36L777.5 869.57L778.85 871.68L780.2 873.67L781.56 875.55L782.91 877.32L784.26 878.97L785.62 880.5L786.97 881.92L788.33 883.21L789.68 884.39L791.03 885.44L792.39 886.37L793.74 887.18L795.1 887.86L796.45 888.42L797.8 888.86L799.16 889.17L800.51 889.36L801.87 889.42" stroke="#f00" stroke-width="4.3" stroke-linecap="square"/>
<path d="M585.24 1012.72L586.59 1012.68L587.94 1012.57L589.3 1012.38L590.65 1012.12L592.01 1011.79L593.36 1011.38L594.71 1010.9L596.07 1010.35L597.42 1009.72L598.78 1009.02L600.13 1008.25L601.48 1007.41L602.84 1006.49L604.19 1005.51L605.55 1004.46L606.9 1003.34L608.25 1002.16L609.61 1000.9L610.96 999.59L612.31 998.21L613.67 996.77L615.02 995.26L616.38 993.7L617.73 992.08L619.08 990.41L620.44 988.67L621.79 986.89L623.15 985.06L624.5 983.18L625.85 981.25L627.21 979.28L628.56 977.27L629.92 975.21L631.27 973.13L632.62 971L633.98 968.85L635.33 966.67L636.69 964.47L638.04 962.24L639.39 960L640.75 957.74L642.1 955.47L643.46 953.19L644.81 950.91L646.16 948.62L647.52 946.34L648.87 944.07L650.23 941.81L651.58 939.56L652.93 937.33L654.29 935.12L655.64 932.94L656.99 930.79L658.35 928.68L659.7 926.6L661.06 924.57L662.41 922.59L663.76 920.65L665.12 918.77L666.47 916.95L667.83 915.19L669.18 913.5L670.53 911.87L671.89 910.32L673.24 908.85L674.6 907.45L675.95 906.14L677.3 904.91L678.66 903.77L680.01 902.72L681.37 901.76L682.72 900.9L684.07 900.13L685.43 899.46L686.78 898.89L688.14 898.43L689.49 898.07L690.84 897.81L692.2 897.65L693.55 897.6L694.9 897.65L696.26 897.81L697.61 898.07L698.97 898.43L700.32 898.89L701.67 899.46L703.03 900.13L704.38 900.9L705.74 901.76L707.09 902.72L708.44 903.77L709.8 904.91L711.15 906.14L712.51 907.45L713.86 908.85L715.21 910.32L716.57 911.87L717.92 913.5L719.28 915.19L720.63 916.95L721.98 918.77L723.34 920.65L724.69 922.59L726.05 924.57L727.4 926.6L728.75 928.68L730.11 930.79L731.46 932.94L732.82 935.12L734.17 937.33L735.52 939.56L736.88 941.81L738.23 944.07L739.58 946.34L740.94 948.62L742.29 950.91L743.65 953.19L745 955.47L746.35 957.74L747.71 960L749.06 962.24L750.42 964.47L751.77 966.67L753.12 968.85L754.48 971L755.83 973.13L757.19 975.21L758.54 977.27L759.89 979.28L761.25 981.25L762.6 983.18L763.96 985.06L765.31 986.89L766.66 988.67L768.02 990.41L769.37 992.08L770.73 993.7L772.08 995.26L773.43 996.77L774.79 998.21L776.14 999.59L777.5 1000.9L778.85 1002.16L780.2 1003.34L781.56 1004.46L782.91 1005.51L784.26 1006.49L785.62 1007.41L786.97 1008.25L788.33 1009.02L789.68 1009.72L791.03 1010.35L792.39 1010.9L793.74 1011.38L795.1 1011.79L796.45 1012.12L797.8 1012.38L799.16 1012.57L800.51 1012.68L801.87 1012.72" stroke="#f00" stroke-width="4.3" stroke-linecap="square" stroke-dasharray="13.7 18.75"/>
<path d="M585.24 1060.27L586.59 1060.24L587.94 1060.16L589.3 1060.02L590.65 1059.83L592.01 1059.58L593.36 1059.27L594.71 1058.91L596.07 1058.49L597.42 1058.02L598.78 1057.5L600.13 1056.92L601.48 1056.29L602.84 1055.6L604.19 1054.87L605.55 1054.08L606.9 1053.24L608.25 1052.36L609.61 1051.42L610.96 1050.43L612.31 1049.4L613.67 1048.32L615.02 1047.2L616.38 1046.03L617.73 1044.82L619.08 1043.57L620.44 1042.27L621.79 1040.94L623.15 1039.57L624.5 1038.17L625.85 1036.73L627.21 1035.26L628.56 1033.76L629.92 1032.23L631.27 1030.68L632.62 1029.1L633.98 1027.49L635.33 1025.87L636.69 1024.23L638.04 1022.58L639.39 1020.91L640.75 1019.23L642.1 1017.54L643.46 1015.85L644.81 1014.15L646.16 1012.46L647.52 1010.77L648.87 1009.08L650.23 1007.4L651.58 1005.74L652.93 1004.09L654.29 1002.45L655.64 1000.84L656.99 999.25L658.35 997.68L659.7 996.15L661.06 994.65L662.41 993.18L663.76 991.75L665.12 990.36L666.47 989.01L667.83 987.71L669.18 986.46L670.53 985.26L671.89 984.12L673.24 983.03L674.6 982L675.95 981.03L677.3 980.12L678.66 979.28L680.01 978.51L681.37 977.8L682.72 977.17L684.07 976.6L685.43 976.11L686.78 975.69L688.14 975.35L689.49 975.08L690.84 974.89L692.2 974.78L693.55 974.74L694.9 974.78L696.26 974.89L697.61 975.08L698.97 975.35L700.32 975.69L701.67 976.11L703.03 976.6L704.38 977.17L705.74 977.8L707.09 978.51L708.44 979.28L709.8 980.12L711.15 981.03L712.51 982L713.86 983.03L715.21 984.12L716.57 985.26L717.92 986.46L719.28 987.71L720.63 989.01L721.98 990.36L723.34 991.75L724.69 993.18L726.05 994.65L727.4 996.15L728.75 997.68L730.11 999.25L731.46 1000.84L732.82 1002.45L734.17 1004.09L735.52 1005.74L736.88 1007.4L738.23 1009.08L739.58 1010.77L740.94 1012.46L742.29 1014.15L743.65 1015.85L745 1017.54L746.35 1019.23L747.71 1020.91L749.06 1022.58L750.42 1024.23L751.77 1025.87L753.12 1027.49L754.48 1029.1L755.83 1030.68L757.19 1032.23L758.54 1033.76L759.89 1035.26L761.25 1036.73L762.6 1038.17L763.96 1039.57L765.31 1040.94L766.66 1042.27L768.02 1043.57L769.37 1044.82L770.73 1046.03L772.08 1047.2L773.43 1048.32L774.79 1049.4L776.14 1050.43L777.5 1051.42L778.85 1052.36L780.2 1053.24L781.56 1054.08L782.91 1054.87L784.26 1055.6L785.62 1056.29L786.97 1056.92L788.33 1057.5L789.68 1058.02L791.03 1058.49L792.39 1058.91L793.74 1059.27L795.1 1059.58L796.45 1059.83L797.8 1060.02L799.16 1060.16L800.51 1060.24L801.87 1060.27" stroke="#f00" stroke-width="4.3" stroke-linecap="square" stroke-dasharray="1 6 5.2 6.23"/>
<path d="M585.24 1086.48L586.59 1086.46L587.94 1086.39L589.3 1086.28L590.65 1086.12L592.01 1085.91L593.36 1085.66L594.71 1085.36L596.07 1085.02L597.42 1084.64L598.78 1084.21L600.13 1083.73L601.48 1083.22L602.84 1082.66L604.19 1082.05L605.55 1081.41L606.9 1080.72L608.25 1080L609.61 1079.23L610.96 1078.42L612.31 1077.58L613.67 1076.7L615.02 1075.78L616.38 1074.82L617.73 1073.83L619.08 1072.81L620.44 1071.75L621.79 1070.66L623.15 1069.55L624.5 1068.4L625.85 1067.23L627.21 1066.03L628.56 1064.8L629.92 1063.55L631.27 1062.29L632.62 1061L633.98 1059.69L635.33 1058.37L636.69 1057.03L638.04 1055.69L639.39 1054.33L640.75 1052.96L642.1 1051.59L643.46 1050.21L644.81 1048.83L646.16 1047.45L647.52 1046.08L648.87 1044.71L650.23 1043.35L651.58 1041.99L652.93 1040.65L654.29 1039.32L655.64 1038.01L656.99 1036.72L658.35 1035.45L659.7 1034.21L661.06 1032.99L662.41 1031.8L663.76 1030.64L665.12 1029.52L666.47 1028.42L667.83 1027.37L669.18 1026.36L670.53 1025.39L671.89 1024.46L673.24 1023.58L674.6 1022.75L675.95 1021.96L677.3 1021.23L678.66 1020.55L680.01 1019.92L681.37 1019.35L682.72 1018.84L684.07 1018.38L685.43 1017.98L686.78 1017.64L688.14 1017.37L689.49 1017.15L690.84 1016.99L692.2 1016.9L693.55 1016.87L694.9 1016.9L696.26 1016.99L697.61 1017.15L698.97 1017.37L700.32 1017.64L701.67 1017.98L703.03 1018.38L704.38 1018.84L705.74 1019.35L707.09 1019.92L708.44 1020.55L709.8 1021.23L711.15 1021.96L712.51 1022.75L713.86 1023.58L715.21 1024.46L716.57 1025.39L717.92 1026.36L719.28 1027.37L720.63 1028.42L721.98 1029.52L723.34 1030.64L724.69 1031.8L726.05 1032.99L727.4 1034.21L728.75 1035.45L730.11 1036.72L731.46 1038.01L732.82 1039.32L734.17 1040.65L735.52 1041.99L736.88 1043.35L738.23 1044.71L739.58 1046.08L740.94 1047.45L742.29 1048.83L743.65 1050.21L745 1051.59L746.35 1052.96L747.71 1054.33L749.06 1055.69L750.42 1057.03L751.77 1058.37L753.12 1059.69L754.48 1061L755.83 1062.29L757.19 1063.55L758.54 1064.8L759.89 1066.03L761.25 1067.23L762.6 1068.4L763.96 1069.55L765.31 1070.66L766.66 1071.75L768.02 1072.81L769.37 1073.83L770.73 1074.82L772.08 1075.78L773.43 1076.7L774.79 1077.58L776.14 1078.42L777.5 1079.23L778.85 1080L780.2 1080.72L781.56 1081.41L782.91 1082.05L784.26 1082.66L785.62 1083.22L786.97 1083.73L788.33 1084.21L789.68 1084.64L791.03 1085.02L792.39 1085.36L793.74 1085.66L795.1 1085.91L796.45 1086.12L797.8 1086.28L799.16 1086.39L800.51 1086.46L801.87 1086.48" stroke="#f00" stroke-width="4.3" stroke-linecap="square" stroke-dasharray="1 6.08"/>
<path d="M801.87 889.42H845.19" stroke="#000" stroke-width="4.3" stroke-linecap="square"/>
<path d="M801.87 1012.72H845.19" stroke="#000" stroke-width="4.3" stroke-linecap="square" stroke-dasharray="13.7 18.75"/>
<path d="M801.87 1060.27H845.19" stroke="#000" stroke-width="4.3" stroke-linecap="square" stroke-dasharray="1 6 5.2 6.23"/>
<path d="M801.87 1086.48H845.19" stroke="#000" stroke-width="4.3" stroke-linecap="square" stroke-dasharray="1 6.08"/>
</g>
<rect class="frame" x="93.5" y="677.8" width="767.05" height="474.2"/>
<path class="ticks" d="M108.65 1152v-6M108.65 677.8v6M216.97 1152v-6M216.97 677.8v6M325.28 1152v-6M325.28 677.8v6M433.6 1152v-6M433.6 677.8v6M541.91 1152v-6M541.91 677.8v6M650.23 1152v-6M650.23 677.8v6M758.54 1152v-6M758.54 677.8v6M130.31 1152v-3.6M130.31 677.8v3.6M151.98 1152v-3.6M151.98 677.8v3.6M173.64 1152v-3.6M173.64 677.8v3.6M195.3 1152v-3.6M195.3 677.8v3.6M238.63 1152v-3.6M238.63 677.8v3.6M260.29 1152v-3.6M260.29 677.8v3.6M281.95 1152v-3.6M281.95 677.8v3.6M303.62 1152v-3.6M303.62 677.8v3.6M346.94 1152v-3.6M346.94 677.8v3.6M368.61 1152v-3.6M368.61 677.8v3.6M390.27 1152v-3.6M390.27 677.8v3.6M411.93 1152v-3.6M411.93 677.8v3.6M455.26 1152v-3.6M455.26 677.8v3.6M476.92 1152v-3.6M476.92 677.8v3.6M498.58 1152v-3.6M498.58 677.8v3.6M520.25 1152v-3.6M520.25 677.8v3.6M563.57 1152v-3.6M563.57 677.8v3.6M585.24 1152v-3.6M585.24 677.8v3.6M606.9 1152v-3.6M606.9 677.8v3.6M628.56 1152v-3.6M628.56 677.8v3.6M671.89 1152v-3.6M671.89 677.8v3.6M693.55 1152v-3.6M693.55 677.8v3.6M715.21 1152v-3.6M715.21 677.8v3.6M736.88 1152v-3.6M736.88 677.8v3.6M780.2 1152v-3.6M780.2 677.8v3.6M801.87 1152v-3.6M801.87 677.8v3.6M823.53 1152v-3.6M823.53 677.8v3.6M845.19 1152v-3.6M845.19 677.8v3.6M93.5 1109.5h6M860.55 1109.5h-6M93.5 1047.54h6M860.55 1047.54h-6M93.5 985.58h6M860.55 985.58h-6M93.5 923.62h6M860.55 923.62h-6M93.5 861.66h6M860.55 861.66h-6M93.5 799.7h6M860.55 799.7h-6M93.5 737.74h6M860.55 737.74h-6M93.5 1140.48h3.6M860.55 1140.48h-3.6M93.5 1124.99h3.6M860.55 1124.99h-3.6M93.5 1094.01h3.6M860.55 1094.01h-3.6M93.5 1078.52h3.6M860.55 1078.52h-3.6M93.5 1063.03h3.6M860.55 1063.03h-3.6M93.5 1032.05h3.6M860.55 1032.05h-3.6M93.5 1016.56h3.6M860.55 1016.56h-3.6M93.5 1001.07h3.6M860.55 1001.07h-3.6M93.5 970.09h3.6M860.55 970.09h-3.6M93.5 954.6h3.6M860.55 954.6h-3.6M93.5 939.11h3.6M860.55 939.11h-3.6M93.5 908.13h3.6M860.55 908.13h-3.6M93.5 892.64h3.6M860.55 892.64h-3.6M93.5 877.15h3.6M860.55 877.15h-3.6M93.5 846.17h3.6M860.55 846.17h-3.6M93.5 830.68h3.6M860.55 830.68h-3.6M93.5 815.19h3.6M860.55 815.19h-3.6M93.5 784.21h3.6M860.55 784.21h-3.6M93.5 768.72h3.6M860.55 768.72h-3.6M93.5 753.23h3.6M860.55 753.23h-3.6M93.5 722.25h3.6M860.55 722.25h-3.6M93.5 706.76h3.6M860.55 706.76h-3.6M93.5 691.27h3.6M860.55 691.27h-3.6"/>
<text class="tl" transform="translate(108.65 1179.2) scale(0.985 1)" font-size="26" text-anchor="middle">0.0</text>
<text class="tl" transform="translate(216.97 1179.2) scale(0.985 1)" font-size="26" text-anchor="middle">0.5</text>
<text class="tl" transform="translate(325.28 1179.2) scale(0.985 1)" font-size="26" text-anchor="middle">1.0</text>
<text class="tl" transform="translate(433.6 1179.2) scale(0.985 1)" font-size="26" text-anchor="middle">1.5</text>
<text class="tl" transform="translate(541.91 1179.2) scale(0.985 1)" font-size="26" text-anchor="middle">2.0</text>
<text class="tl" transform="translate(650.23 1179.2) scale(0.985 1)" font-size="26" text-anchor="middle">2.5</text>
<text class="tl" transform="translate(758.54 1179.2) scale(0.985 1)" font-size="26" text-anchor="middle">3.0</text>
<text class="tl" transform="translate(89.4 1118.2) scale(0.985 1)" font-size="26" text-anchor="end">4</text>
<text class="tl" transform="translate(89.4 1056.24) scale(0.985 1)" font-size="26" text-anchor="end">6</text>
<text class="tl" transform="translate(89.4 994.28) scale(0.985 1)" font-size="26" text-anchor="end">8</text>
<text class="tl" transform="translate(89.4 932.32) scale(0.985 1)" font-size="26" text-anchor="end">10</text>
<text class="tl" transform="translate(89.4 870.36) scale(0.985 1)" font-size="26" text-anchor="end">12</text>
<text class="tl" transform="translate(89.4 808.4) scale(0.985 1)" font-size="26" text-anchor="end">14</text>
<text class="tl" transform="translate(89.4 746.44) scale(0.985 1)" font-size="26" text-anchor="end">16</text>
<text transform="translate(477.1 655.5) scale(1 0.96)" font-size="40" text-anchor="middle">(c)</text>
<text transform="translate(477.4 1220.6) scale(1 1.03)" font-size="40" font-style="italic" text-anchor="middle">z</text>
<text transform="translate(35.8 936.7) rotate(-90) scale(0.98 1.14)" font-size="40" font-weight="bold">τ</text>
<text transform="translate(45.6 905.6) rotate(-90)" font-size="21.4" font-style="italic">χ</text>
<g class="leg">
<path d="M159.7 728.5H184.8" stroke="#b4b4ff" stroke-width="1.1" stroke-linecap="square"/>
<path d="M159.7 769.4H184.8" stroke="#b4b4ff" stroke-width="1.1" stroke-linecap="square" stroke-dasharray="13.7 18.75"/>
<path d="M159.7 810.4H184.8" stroke="#b4b4ff" stroke-width="1.1" stroke-linecap="square" stroke-dasharray="1 6 5.2 6.23"/>
<path d="M159.7 851.6H184.8" stroke="#b4b4ff" stroke-width="1.1" stroke-linecap="square" stroke-dasharray="1 6.08"/>
</g>
<text transform="translate(192.94 733.6) scale(1.06 1.05)" font-size="36" font-weight="bold" font-style="italic">e</text>
<text class="eq" transform="translate(219.2 740.44) scale(1.25 1.374)" font-size="36" font-weight="bold">=</text>
<text transform="translate(254.1 733.6) scale(1.017 1)" font-size="36" font-weight="bold">0.02</text>
<text transform="translate(192.94 774.6) scale(1.06 1.05)" font-size="36" font-weight="bold" font-style="italic">e</text>
<text class="eq" transform="translate(219.2 781.44) scale(1.25 1.374)" font-size="36" font-weight="bold">=</text>
<text transform="translate(254.1 774.6) scale(1.017 1)" font-size="36" font-weight="bold">0.04</text>
<text transform="translate(192.94 814.9) scale(1.06 1.05)" font-size="36" font-weight="bold" font-style="italic">e</text>
<text class="eq" transform="translate(219.2 821.74) scale(1.25 1.374)" font-size="36" font-weight="bold">=</text>
<text transform="translate(254.1 814.9) scale(1.017 1)" font-size="36" font-weight="bold">0.06</text>
<text transform="translate(192.94 855.5) scale(1.06 1.05)" font-size="36" font-weight="bold" font-style="italic">e</text>
<text class="eq" transform="translate(219.2 862.34) scale(1.25 1.374)" font-size="36" font-weight="bold">=</text>
<text transform="translate(254.1 855.5) scale(1.017 1)" font-size="36" font-weight="bold">0.08</text>
<text transform="translate(362.2 753.4) scale(1.025 0.965)" font-size="36" font-weight="bold">Red: Dilatation</text>
<text transform="translate(362.2 805.5) scale(1.025 0.965)" font-size="36" font-weight="bold">Blue: Stenosis</text>
</g>
<g id="panel-d">
<path class="grid" d="M1113.97 671.4V1153.3M1224.05 671.4V1153.3M1334.12 671.4V1153.3M1444.2 671.4V1153.3M1554.28 671.4V1153.3M1664.35 671.4V1153.3M988.4 1131.4H1768.2M988.4 1058.42H1768.2M988.4 985.44H1768.2M988.4 912.46H1768.2M988.4 839.48H1768.2M988.4 766.5H1768.2M988.4 693.52H1768.2"/>
<rect x="1265.3" y="703.7" width="254" height="94.5" fill="#fff"/>
<g class="curves">
<path d="M1003.9 852.47H1047.93" stroke="#000" stroke-width="4.3" stroke-linecap="square"/>
<path d="M1003.9 852.47H1047.93" stroke="#000" stroke-width="4.3" stroke-linecap="square" stroke-dasharray="13.7 18.75"/>
<path d="M1003.9 852.47H1047.93" stroke="#000" stroke-width="4.3" stroke-linecap="square" stroke-dasharray="1 6 5.2 6.23"/>
<path d="M1003.9 852.47H1047.93" stroke="#000" stroke-width="4.3" stroke-linecap="square" stroke-dasharray="1 6.08"/>
<path d="M1047.93 852.47L1049.31 853L1050.68 854.07L1052.06 855.5L1053.43 857.22L1054.81 859.19L1056.19 861.37L1057.56 863.74L1058.94 866.28L1060.31 868.97L1061.69 871.79L1063.07 874.73L1064.44 877.78L1065.82 880.93L1067.19 884.16L1068.57 887.48L1069.94 890.86L1071.32 894.3L1072.7 897.79L1074.07 901.33L1075.45 904.91L1076.82 908.52L1078.2 912.16L1079.58 915.82L1080.95 919.49L1082.33 923.17L1083.7 926.86L1085.08 930.55L1086.46 934.24L1087.83 937.91L1089.21 941.59L1090.58 945.29L1091.96 949.02L1093.34 952.75L1094.71 956.49L1096.09 960.21L1097.46 963.91L1098.84 967.57L1100.22 971.19L1101.59 974.77L1102.97 978.28L1104.34 981.73L1105.72 985.12L1107.1 988.43L1108.47 991.66L1109.85 994.81L1111.22 997.88L1112.6 1000.86L1113.97 1003.76L1115.35 1006.56L1116.73 1009.28L1118.1 1011.91L1119.48 1014.44L1120.85 1016.89L1122.23 1019.25L1123.61 1021.51L1124.98 1023.69L1126.36 1025.77L1127.73 1027.77L1129.11 1029.67L1130.49 1031.49L1131.86 1033.22L1133.24 1034.86L1134.61 1036.41L1135.99 1037.88L1137.37 1039.26L1138.74 1040.55L1140.12 1041.75L1141.49 1042.86L1142.87 1043.88L1144.25 1044.82L1145.62 1045.67L1147 1046.43L1148.37 1047.1L1149.75 1047.68L1151.13 1048.18L1152.5 1048.58L1153.88 1048.89L1155.25 1049.12L1156.63 1049.25L1158 1049.3L1159.38 1049.25L1160.76 1049.12L1162.13 1048.89L1163.51 1048.58L1164.88 1048.18L1166.26 1047.68L1167.64 1047.1L1169.01 1046.43L1170.39 1045.67L1171.76 1044.82L1173.14 1043.88L1174.52 1042.86L1175.89 1041.75L1177.27 1040.55L1178.64 1039.26L1180.02 1037.88L1181.4 1036.41L1182.77 1034.86L1184.15 1033.22L1185.52 1031.49L1186.9 1029.67L1188.28 1027.77L1189.65 1025.77L1191.03 1023.69L1192.4 1021.51L1193.78 1019.25L1195.16 1016.89L1196.53 1014.44L1197.91 1011.91L1199.28 1009.28L1200.66 1006.56L1202.03 1003.76L1203.41 1000.86L1204.79 997.88L1206.16 994.81L1207.54 991.66L1208.91 988.43L1210.29 985.12L1211.67 981.73L1213.04 978.28L1214.42 974.77L1215.79 971.19L1217.17 967.57L1218.55 963.91L1219.92 960.21L1221.3 956.49L1222.67 952.75L1224.05 949.02L1225.43 945.29L1226.8 941.59L1228.18 937.91L1229.55 934.24L1230.93 930.55L1232.31 926.86L1233.68 923.17L1235.06 919.49L1236.43 915.82L1237.81 912.16L1239.19 908.52L1240.56 904.91L1241.94 901.33L1243.31 897.79L1244.69 894.3L1246.07 890.86L1247.44 887.48L1248.82 884.16L1250.19 880.93L1251.57 877.78L1252.94 874.73L1254.32 871.79L1255.7 868.97L1257.07 866.28L1258.45 863.74L1259.82 861.37L1261.2 859.19L1262.58 857.22L1263.95 855.5L1265.33 854.07L1266.7 853L1268.08 852.47" stroke="#00f" stroke-width="4.3" stroke-linecap="square"/>
<path d="M1047.93 870.64L1049.31 873.67L1050.68 876.78L1052.06 879.97L1053.43 883.23L1054.81 886.55L1056.19 889.94L1057.56 893.38L1058.94 896.88L1060.31 900.43L1061.69 904.03L1063.07 907.67L1064.44 911.34L1065.82 915.05L1067.19 918.79L1068.57 922.56L1069.94 926.35L1071.32 930.16L1072.7 933.98L1074.07 937.82L1075.45 941.66L1076.82 945.51L1078.2 949.35L1079.58 953.2L1080.95 957.04L1082.33 960.88L1083.7 964.7L1085.08 968.5L1086.46 972.29L1087.83 976.06L1089.21 979.8L1090.58 983.52L1091.96 987.2L1093.34 990.86L1094.71 994.48L1096.09 998.06L1097.46 1001.6L1098.84 1005.1L1100.22 1008.55L1101.59 1011.95L1102.97 1015.31L1104.34 1018.61L1105.72 1021.85L1107.1 1025.04L1108.47 1028.17L1109.85 1031.24L1111.22 1034.25L1112.6 1037.19L1113.97 1040.06L1115.35 1042.86L1116.73 1045.6L1118.1 1048.25L1119.48 1050.84L1120.85 1053.35L1122.23 1055.78L1123.61 1058.13L1124.98 1060.41L1126.36 1062.6L1127.73 1064.7L1129.11 1066.73L1130.49 1068.66L1131.86 1070.51L1133.24 1072.27L1134.61 1073.95L1135.99 1075.53L1137.37 1077.02L1138.74 1078.42L1140.12 1079.72L1141.49 1080.94L1142.87 1082.05L1144.25 1083.08L1145.62 1084L1147 1084.84L1148.37 1085.57L1149.75 1086.21L1151.13 1086.75L1152.5 1087.19L1153.88 1087.53L1155.25 1087.78L1156.63 1087.93L1158 1087.98L1159.38 1087.93L1160.76 1087.78L1162.13 1087.53L1163.51 1087.19L1164.88 1086.75L1166.26 1086.21L1167.64 1085.57L1169.01 1084.84L1170.39 1084L1171.76 1083.08L1173.14 1082.05L1174.52 1080.94L1175.89 1079.72L1177.27 1078.42L1178.64 1077.02L1180.02 1075.53L1181.4 1073.95L1182.77 1072.27L1184.15 1070.51L1185.52 1068.66L1186.9 1066.73L1188.28 1064.7L1189.65 1062.6L1191.03 1060.41L1192.4 1058.13L1193.78 1055.78L1195.16 1053.35L1196.53 1050.84L1197.91 1048.25L1199.28 1045.6L1200.66 1042.86L1202.03 1040.06L1203.41 1037.19L1204.79 1034.25L1206.16 1031.24L1207.54 1028.17L1208.91 1025.04L1210.29 1021.85L1211.67 1018.61L1213.04 1015.31L1214.42 1011.95L1215.79 1008.55L1217.17 1005.1L1218.55 1001.6L1219.92 998.06L1221.3 994.48L1222.67 990.86L1224.05 987.2L1225.43 983.52L1226.8 979.8L1228.18 976.06L1229.55 972.29L1230.93 968.5L1232.31 964.7L1233.68 960.88L1235.06 957.04L1236.43 953.2L1237.81 949.35L1239.19 945.51L1240.56 941.66L1241.94 937.82L1243.31 933.98L1244.69 930.16L1246.07 926.35L1247.44 922.56L1248.82 918.79L1250.19 915.05L1251.57 911.34L1252.94 907.67L1254.32 904.03L1255.7 900.43L1257.07 896.88L1258.45 893.38L1259.82 889.94L1261.2 886.55L1262.58 883.23L1263.95 879.97L1265.33 876.78L1266.7 873.67L1268.08 870.64" stroke="#00f" stroke-width="4.3" stroke-linecap="square" stroke-dasharray="13.7 18.75"/>
<path d="M1047.93 887.94L1049.31 891.1L1050.68 894.35L1052.06 897.68L1053.43 901.08L1054.81 904.55L1056.19 908.08L1057.56 911.68L1058.94 915.34L1060.31 919.04L1061.69 922.8L1063.07 926.59L1064.44 930.43L1065.82 934.3L1067.19 938.21L1068.57 942.14L1069.94 946.1L1071.32 950.07L1072.7 954.06L1074.07 958.07L1075.45 962.08L1076.82 966.1L1078.2 970.11L1079.58 974.13L1080.95 978.14L1082.33 982.14L1083.7 986.13L1085.08 990.1L1086.46 994.06L1087.83 997.99L1089.21 1001.9L1090.58 1005.78L1091.96 1009.63L1093.34 1013.44L1094.71 1017.22L1096.09 1020.96L1097.46 1024.65L1098.84 1028.31L1100.22 1031.91L1101.59 1035.46L1102.97 1038.97L1104.34 1042.41L1105.72 1045.8L1107.1 1049.13L1108.47 1052.4L1109.85 1055.6L1111.22 1058.74L1112.6 1061.81L1113.97 1064.81L1115.35 1067.73L1116.73 1070.59L1118.1 1073.36L1119.48 1076.06L1120.85 1078.68L1122.23 1081.22L1123.61 1083.68L1124.98 1086.05L1126.36 1088.34L1127.73 1090.54L1129.11 1092.65L1130.49 1094.67L1131.86 1096.6L1133.24 1098.44L1134.61 1100.19L1135.99 1101.84L1137.37 1103.39L1138.74 1104.85L1140.12 1106.22L1141.49 1107.48L1142.87 1108.65L1144.25 1109.72L1145.62 1110.69L1147 1111.55L1148.37 1112.32L1149.75 1112.99L1151.13 1113.55L1152.5 1114.01L1153.88 1114.37L1155.25 1114.63L1156.63 1114.78L1158 1114.83L1159.38 1114.78L1160.76 1114.63L1162.13 1114.37L1163.51 1114.01L1164.88 1113.55L1166.26 1112.99L1167.64 1112.32L1169.01 1111.55L1170.39 1110.69L1171.76 1109.72L1173.14 1108.65L1174.52 1107.48L1175.89 1106.22L1177.27 1104.85L1178.64 1103.39L1180.02 1101.84L1181.4 1100.19L1182.77 1098.44L1184.15 1096.6L1185.52 1094.67L1186.9 1092.65L1188.28 1090.54L1189.65 1088.34L1191.03 1086.05L1192.4 1083.68L1193.78 1081.22L1195.16 1078.68L1196.53 1076.06L1197.91 1073.36L1199.28 1070.59L1200.66 1067.73L1202.03 1064.81L1203.41 1061.81L1204.79 1058.74L1206.16 1055.6L1207.54 1052.4L1208.91 1049.13L1210.29 1045.8L1211.67 1042.41L1213.04 1038.97L1214.42 1035.46L1215.79 1031.91L1217.17 1028.31L1218.55 1024.65L1219.92 1020.96L1221.3 1017.22L1222.67 1013.44L1224.05 1009.63L1225.43 1005.78L1226.8 1001.9L1228.18 997.99L1229.55 994.06L1230.93 990.1L1232.31 986.13L1233.68 982.14L1235.06 978.14L1236.43 974.13L1237.81 970.11L1239.19 966.1L1240.56 962.08L1241.94 958.07L1243.31 954.06L1244.69 950.07L1246.07 946.1L1247.44 942.14L1248.82 938.21L1250.19 934.3L1251.57 930.43L1252.94 926.59L1254.32 922.8L1255.7 919.04L1257.07 915.34L1258.45 911.68L1259.82 908.08L1261.2 904.55L1262.58 901.08L1263.95 897.68L1265.33 894.35L1266.7 891.1L1268.08 887.94" stroke="#00f" stroke-width="4.3" stroke-linecap="square" stroke-dasharray="1 6 5.2 6.23"/>
<path d="M1047.93 902.32L1049.31 906.08L1050.68 909.93L1052.06 913.85L1053.43 917.82L1054.81 921.86L1056.19 925.94L1057.56 930.06L1058.94 934.21L1060.31 938.4L1061.69 942.62L1063.07 946.85L1064.44 951.11L1065.82 955.38L1067.19 959.65L1068.57 963.94L1069.94 968.23L1071.32 972.51L1072.7 976.79L1074.07 981.07L1075.45 985.33L1076.82 989.58L1078.2 993.81L1079.58 998.02L1080.95 1002.21L1082.33 1006.37L1083.7 1010.51L1085.08 1014.61L1086.46 1018.68L1087.83 1022.72L1089.21 1026.71L1090.58 1030.66L1091.96 1034.57L1093.34 1038.44L1094.71 1042.25L1096.09 1046.02L1097.46 1049.73L1098.84 1053.39L1100.22 1056.99L1101.59 1060.53L1102.97 1064.01L1104.34 1067.43L1105.72 1070.79L1107.1 1074.08L1108.47 1077.3L1109.85 1080.45L1111.22 1083.54L1112.6 1086.55L1113.97 1089.48L1115.35 1092.34L1116.73 1095.13L1118.1 1097.83L1119.48 1100.46L1120.85 1103L1122.23 1105.47L1123.61 1107.85L1124.98 1110.14L1126.36 1112.35L1127.73 1114.48L1129.11 1116.51L1130.49 1118.46L1131.86 1120.32L1133.24 1122.09L1134.61 1123.76L1135.99 1125.35L1137.37 1126.84L1138.74 1128.24L1140.12 1129.55L1141.49 1130.76L1142.87 1131.88L1144.25 1132.9L1145.62 1133.83L1147 1134.65L1148.37 1135.39L1149.75 1136.02L1151.13 1136.56L1152.5 1137L1153.88 1137.34L1155.25 1137.59L1156.63 1137.74L1158 1137.79L1159.38 1137.74L1160.76 1137.59L1162.13 1137.34L1163.51 1137L1164.88 1136.56L1166.26 1136.02L1167.64 1135.39L1169.01 1134.65L1170.39 1133.83L1171.76 1132.9L1173.14 1131.88L1174.52 1130.76L1175.89 1129.55L1177.27 1128.24L1178.64 1126.84L1180.02 1125.35L1181.4 1123.76L1182.77 1122.09L1184.15 1120.32L1185.52 1118.46L1186.9 1116.51L1188.28 1114.48L1189.65 1112.35L1191.03 1110.14L1192.4 1107.85L1193.78 1105.47L1195.16 1103L1196.53 1100.46L1197.91 1097.83L1199.28 1095.13L1200.66 1092.34L1202.03 1089.48L1203.41 1086.55L1204.79 1083.54L1206.16 1080.45L1207.54 1077.3L1208.91 1074.08L1210.29 1070.79L1211.67 1067.43L1213.04 1064.01L1214.42 1060.53L1215.79 1056.99L1217.17 1053.39L1218.55 1049.73L1219.92 1046.02L1221.3 1042.25L1222.67 1038.44L1224.05 1034.57L1225.43 1030.66L1226.8 1026.71L1228.18 1022.72L1229.55 1018.68L1230.93 1014.61L1232.31 1010.51L1233.68 1006.37L1235.06 1002.21L1236.43 998.02L1237.81 993.81L1239.19 989.58L1240.56 985.33L1241.94 981.07L1243.31 976.79L1244.69 972.51L1246.07 968.23L1247.44 963.94L1248.82 959.65L1250.19 955.38L1251.57 951.11L1252.94 946.85L1254.32 942.62L1255.7 938.4L1257.07 934.21L1258.45 930.06L1259.82 925.94L1261.2 921.86L1262.58 917.82L1263.95 913.85L1265.33 909.93L1266.7 906.08L1268.08 902.32" stroke="#00f" stroke-width="4.3" stroke-linecap="square" stroke-dasharray="1 6.08"/>
<path d="M1268.08 852.47H1488.23" stroke="#000" stroke-width="4.3" stroke-linecap="square"/>
<path d="M1268.08 852.47H1488.23" stroke="#000" stroke-width="4.3" stroke-linecap="square" stroke-dasharray="13.7 18.75"/>
<path d="M1268.08 852.47H1488.23" stroke="#000" stroke-width="4.3" stroke-linecap="square" stroke-dasharray="1 6 5.2 6.23"/>
<path d="M1268.08 852.47H1488.23" stroke="#000" stroke-width="4.3" stroke-linecap="square" stroke-dasharray="1 6.08"/>
<path d="M1488.23 852.47L1489.61 852.43L1490.98 852.31L1492.36 852.08L1493.73 851.75L1495.11 851.32L1496.49 850.77L1497.86 850.11L1499.24 849.33L1500.61 848.44L1501.99 847.44L1503.37 846.32L1504.74 845.08L1506.12 843.73L1507.49 842.27L1508.87 840.69L1510.25 839L1511.62 837.21L1513 835.3L1514.37 833.3L1515.75 831.19L1517.12 828.98L1518.5 826.68L1519.88 824.28L1521.25 821.79L1522.63 819.22L1524 816.57L1525.38 813.83L1526.76 811.03L1528.13 808.15L1529.51 805.21L1530.88 802.21L1532.26 799.15L1533.64 796.04L1535.01 792.89L1536.39 789.69L1537.76 786.46L1539.14 783.2L1540.52 779.91L1541.89 776.61L1543.27 773.28L1544.64 769.95L1546.02 766.62L1547.4 763.28L1548.77 759.96L1550.15 756.65L1551.52 753.35L1552.9 750.08L1554.28 746.84L1555.65 743.63L1557.03 740.47L1558.4 737.35L1559.78 734.28L1561.15 731.26L1562.53 728.31L1563.91 725.42L1565.28 722.6L1566.66 719.86L1568.03 717.2L1569.41 714.62L1570.79 712.13L1572.16 709.74L1573.54 707.44L1574.91 705.24L1576.29 703.15L1577.67 701.17L1579.04 699.29L1580.42 697.54L1581.79 695.9L1583.17 694.38L1584.55 692.98L1585.92 691.71L1587.3 690.57L1588.67 689.56L1590.05 688.68L1591.43 687.93L1592.8 687.32L1594.18 686.84L1595.55 686.5L1596.93 686.29L1598.31 686.22L1599.68 686.29L1601.06 686.5L1602.43 686.84L1603.81 687.32L1605.18 687.93L1606.56 688.68L1607.94 689.56L1609.31 690.57L1610.69 691.71L1612.06 692.98L1613.44 694.38L1614.82 695.9L1616.19 697.54L1617.57 699.29L1618.94 701.17L1620.32 703.15L1621.7 705.24L1623.07 707.44L1624.45 709.74L1625.82 712.13L1627.2 714.62L1628.58 717.2L1629.95 719.86L1631.33 722.6L1632.7 725.42L1634.08 728.31L1635.46 731.26L1636.83 734.28L1638.21 737.35L1639.58 740.47L1640.96 743.63L1642.34 746.84L1643.71 750.08L1645.09 753.35L1646.46 756.65L1647.84 759.96L1649.21 763.28L1650.59 766.62L1651.97 769.95L1653.34 773.28L1654.72 776.61L1656.09 779.91L1657.47 783.2L1658.85 786.46L1660.22 789.69L1661.6 792.89L1662.97 796.04L1664.35 799.15L1665.73 802.21L1667.1 805.21L1668.48 808.15L1669.85 811.03L1671.23 813.83L1672.61 816.57L1673.98 819.22L1675.36 821.79L1676.73 824.28L1678.11 826.68L1679.49 828.98L1680.86 831.19L1682.24 833.3L1683.61 835.3L1684.99 837.21L1686.37 839L1687.74 840.69L1689.12 842.27L1690.49 843.73L1691.87 845.08L1693.24 846.32L1694.62 847.44L1696 848.44L1697.37 849.33L1698.75 850.11L1700.12 850.77L1701.5 851.32L1702.88 851.75L1704.25 852.08L1705.63 852.31L1707 852.43L1708.38 852.47" stroke="#f00" stroke-width="4.3" stroke-linecap="square"/>
<path d="M1488.23 852.47L1489.61 852.43L1490.98 852.31L1492.36 852.08L1493.73 851.75L1495.11 851.32L1496.49 850.77L1497.86 850.11L1499.24 849.33L1500.61 848.44L1501.99 847.44L1503.37 846.32L1504.74 845.08L1506.12 843.73L1507.49 842.27L1508.87 840.69L1510.25 839L1511.62 837.21L1513 835.3L1514.37 833.3L1515.75 831.19L1517.12 828.98L1518.5 826.68L1519.88 824.28L1521.25 821.79L1522.63 819.22L1524 816.57L1525.38 813.83L1526.76 811.03L1528.13 808.15L1529.51 805.21L1530.88 802.21L1532.26 799.15L1533.64 796.04L1535.01 792.89L1536.39 789.69L1537.76 786.46L1539.14 783.2L1540.52 779.91L1541.89 776.61L1543.27 773.28L1544.64 769.95L1546.02 766.62L1547.4 763.28L1548.77 759.96L1550.15 756.65L1551.52 753.35L1552.9 750.08L1554.28 746.84L1555.65 743.63L1557.03 740.47L1558.4 737.35L1559.78 734.28L1561.15 731.26L1562.53 728.31L1563.91 725.42L1565.28 722.6L1566.66 719.86L1568.03 717.2L1569.41 714.62L1570.79 712.13L1572.16 709.74L1573.54 707.44L1574.91 705.24L1576.29 703.15L1577.67 701.17L1579.04 699.29L1580.42 697.54L1581.79 695.9L1583.17 694.38L1584.55 692.98L1585.92 691.71L1587.3 690.57L1588.67 689.56L1590.05 688.68L1591.43 687.93L1592.8 687.32L1594.18 686.84L1595.55 686.5L1596.93 686.29L1598.31 686.22L1599.68 686.29L1601.06 686.5L1602.43 686.84L1603.81 687.32L1605.18 687.93L1606.56 688.68L1607.94 689.56L1609.31 690.57L1610.69 691.71L1612.06 692.98L1613.44 694.38L1614.82 695.9L1616.19 697.54L1617.57 699.29L1618.94 701.17L1620.32 703.15L1621.7 705.24L1623.07 707.44L1624.45 709.74L1625.82 712.13L1627.2 714.62L1628.58 717.2L1629.95 719.86L1631.33 722.6L1632.7 725.42L1634.08 728.31L1635.46 731.26L1636.83 734.28L1638.21 737.35L1639.58 740.47L1640.96 743.63L1642.34 746.84L1643.71 750.08L1645.09 753.35L1646.46 756.65L1647.84 759.96L1649.21 763.28L1650.59 766.62L1651.97 769.95L1653.34 773.28L1654.72 776.61L1656.09 779.91L1657.47 783.2L1658.85 786.46L1660.22 789.69L1661.6 792.89L1662.97 796.04L1664.35 799.15L1665.73 802.21L1667.1 805.21L1668.48 808.15L1669.85 811.03L1671.23 813.83L1672.61 816.57L1673.98 819.22L1675.36 821.79L1676.73 824.28L1678.11 826.68L1679.49 828.98L1680.86 831.19L1682.24 833.3L1683.61 835.3L1684.99 837.21L1686.37 839L1687.74 840.69L1689.12 842.27L1690.49 843.73L1691.87 845.08L1693.24 846.32L1694.62 847.44L1696 848.44L1697.37 849.33L1698.75 850.11L1700.12 850.77L1701.5 851.32L1702.88 851.75L1704.25 852.08L1705.63 852.31L1707 852.43L1708.38 852.47" stroke="#f00" stroke-width="4.3" stroke-linecap="square" stroke-dasharray="13.7 18.75"/>
<path d="M1488.23 852.47L1489.61 852.43L1490.98 852.31L1492.36 852.08L1493.73 851.75L1495.11 851.32L1496.49 850.77L1497.86 850.11L1499.24 849.33L1500.61 848.44L1501.99 847.44L1503.37 846.32L1504.74 845.08L1506.12 843.73L1507.49 842.27L1508.87 840.69L1510.25 839L1511.62 837.21L1513 835.3L1514.37 833.3L1515.75 831.19L1517.12 828.98L1518.5 826.68L1519.88 824.28L1521.25 821.79L1522.63 819.22L1524 816.57L1525.38 813.83L1526.76 811.03L1528.13 808.15L1529.51 805.21L1530.88 802.21L1532.26 799.15L1533.64 796.04L1535.01 792.89L1536.39 789.69L1537.76 786.46L1539.14 783.2L1540.52 779.91L1541.89 776.61L1543.27 773.28L1544.64 769.95L1546.02 766.62L1547.4 763.28L1548.77 759.96L1550.15 756.65L1551.52 753.35L1552.9 750.08L1554.28 746.84L1555.65 743.63L1557.03 740.47L1558.4 737.35L1559.78 734.28L1561.15 731.26L1562.53 728.31L1563.91 725.42L1565.28 722.6L1566.66 719.86L1568.03 717.2L1569.41 714.62L1570.79 712.13L1572.16 709.74L1573.54 707.44L1574.91 705.24L1576.29 703.15L1577.67 701.17L1579.04 699.29L1580.42 697.54L1581.79 695.9L1583.17 694.38L1584.55 692.98L1585.92 691.71L1587.3 690.57L1588.67 689.56L1590.05 688.68L1591.43 687.93L1592.8 687.32L1594.18 686.84L1595.55 686.5L1596.93 686.29L1598.31 686.22L1599.68 686.29L1601.06 686.5L1602.43 686.84L1603.81 687.32L1605.18 687.93L1606.56 688.68L1607.94 689.56L1609.31 690.57L1610.69 691.71L1612.06 692.98L1613.44 694.38L1614.82 695.9L1616.19 697.54L1617.57 699.29L1618.94 701.17L1620.32 703.15L1621.7 705.24L1623.07 707.44L1624.45 709.74L1625.82 712.13L1627.2 714.62L1628.58 717.2L1629.95 719.86L1631.33 722.6L1632.7 725.42L1634.08 728.31L1635.46 731.26L1636.83 734.28L1638.21 737.35L1639.58 740.47L1640.96 743.63L1642.34 746.84L1643.71 750.08L1645.09 753.35L1646.46 756.65L1647.84 759.96L1649.21 763.28L1650.59 766.62L1651.97 769.95L1653.34 773.28L1654.72 776.61L1656.09 779.91L1657.47 783.2L1658.85 786.46L1660.22 789.69L1661.6 792.89L1662.97 796.04L1664.35 799.15L1665.73 802.21L1667.1 805.21L1668.48 808.15L1669.85 811.03L1671.23 813.83L1672.61 816.57L1673.98 819.22L1675.36 821.79L1676.73 824.28L1678.11 826.68L1679.49 828.98L1680.86 831.19L1682.24 833.3L1683.61 835.3L1684.99 837.21L1686.37 839L1687.74 840.69L1689.12 842.27L1690.49 843.73L1691.87 845.08L1693.24 846.32L1694.62 847.44L1696 848.44L1697.37 849.33L1698.75 850.11L1700.12 850.77L1701.5 851.32L1702.88 851.75L1704.25 852.08L1705.63 852.31L1707 852.43L1708.38 852.47" stroke="#f00" stroke-width="4.3" stroke-linecap="square" stroke-dasharray="1 6 5.2 6.23"/>
<path d="M1488.23 852.47L1489.61 852.43L1490.98 852.31L1492.36 852.08L1493.73 851.75L1495.11 851.32L1496.49 850.77L1497.86 850.11L1499.24 849.33L1500.61 848.44L1501.99 847.44L1503.37 846.32L1504.74 845.08L1506.12 843.73L1507.49 842.27L1508.87 840.69L1510.25 839L1511.62 837.21L1513 835.3L1514.37 833.3L1515.75 831.19L1517.12 828.98L1518.5 826.68L1519.88 824.28L1521.25 821.79L1522.63 819.22L1524 816.57L1525.38 813.83L1526.76 811.03L1528.13 808.15L1529.51 805.21L1530.88 802.21L1532.26 799.15L1533.64 796.04L1535.01 792.89L1536.39 789.69L1537.76 786.46L1539.14 783.2L1540.52 779.91L1541.89 776.61L1543.27 773.28L1544.64 769.95L1546.02 766.62L1547.4 763.28L1548.77 759.96L1550.15 756.65L1551.52 753.35L1552.9 750.08L1554.28 746.84L1555.65 743.63L1557.03 740.47L1558.4 737.35L1559.78 734.28L1561.15 731.26L1562.53 728.31L1563.91 725.42L1565.28 722.6L1566.66 719.86L1568.03 717.2L1569.41 714.62L1570.79 712.13L1572.16 709.74L1573.54 707.44L1574.91 705.24L1576.29 703.15L1577.67 701.17L1579.04 699.29L1580.42 697.54L1581.79 695.9L1583.17 694.38L1584.55 692.98L1585.92 691.71L1587.3 690.57L1588.67 689.56L1590.05 688.68L1591.43 687.93L1592.8 687.32L1594.18 686.84L1595.55 686.5L1596.93 686.29L1598.31 686.22L1599.68 686.29L1601.06 686.5L1602.43 686.84L1603.81 687.32L1605.18 687.93L1606.56 688.68L1607.94 689.56L1609.31 690.57L1610.69 691.71L1612.06 692.98L1613.44 694.38L1614.82 695.9L1616.19 697.54L1617.57 699.29L1618.94 701.17L1620.32 703.15L1621.7 705.24L1623.07 707.44L1624.45 709.74L1625.82 712.13L1627.2 714.62L1628.58 717.2L1629.95 719.86L1631.33 722.6L1632.7 725.42L1634.08 728.31L1635.46 731.26L1636.83 734.28L1638.21 737.35L1639.58 740.47L1640.96 743.63L1642.34 746.84L1643.71 750.08L1645.09 753.35L1646.46 756.65L1647.84 759.96L1649.21 763.28L1650.59 766.62L1651.97 769.95L1653.34 773.28L1654.72 776.61L1656.09 779.91L1657.47 783.2L1658.85 786.46L1660.22 789.69L1661.6 792.89L1662.97 796.04L1664.35 799.15L1665.73 802.21L1667.1 805.21L1668.48 808.15L1669.85 811.03L1671.23 813.83L1672.61 816.57L1673.98 819.22L1675.36 821.79L1676.73 824.28L1678.11 826.68L1679.49 828.98L1680.86 831.19L1682.24 833.3L1683.61 835.3L1684.99 837.21L1686.37 839L1687.74 840.69L1689.12 842.27L1690.49 843.73L1691.87 845.08L1693.24 846.32L1694.62 847.44L1696 848.44L1697.37 849.33L1698.75 850.11L1700.12 850.77L1701.5 851.32L1702.88 851.75L1704.25 852.08L1705.63 852.31L1707 852.43L1708.38 852.47" stroke="#f00" stroke-width="4.3" stroke-linecap="square" stroke-dasharray="1 6.08"/>
<path d="M1708.38 852.47H1752.41" stroke="#000" stroke-width="4.3" stroke-linecap="square"/>
<path d="M1708.38 852.47H1752.41" stroke="#000" stroke-width="4.3" stroke-linecap="square" stroke-dasharray="13.7 18.75"/>
<path d="M1708.38 852.47H1752.41" stroke="#000" stroke-width="4.3" stroke-linecap="square" stroke-dasharray="1 6 5.2 6.23"/>
<path d="M1708.38 852.47H1752.41" stroke="#000" stroke-width="4.3" stroke-linecap="square" stroke-dasharray="1 6.08"/>
</g>
<rect class="frame" x="988.4" y="671.4" width="779.8" height="481.9"/>
<path class="ticks" d="M1003.9 1153.3v-6M1003.9 671.4v6M1113.97 1153.3v-6M1113.97 671.4v6M1224.05 1153.3v-6M1224.05 671.4v6M1334.12 1153.3v-6M1334.12 671.4v6M1444.2 1153.3v-6M1444.2 671.4v6M1554.28 1153.3v-6M1554.28 671.4v6M1664.35 1153.3v-6M1664.35 671.4v6M1025.91 1153.3v-3.6M1025.91 671.4v3.6M1047.93 1153.3v-3.6M1047.93 671.4v3.6M1069.94 1153.3v-3.6M1069.94 671.4v3.6M1091.96 1153.3v-3.6M1091.96 671.4v3.6M1135.99 1153.3v-3.6M1135.99 671.4v3.6M1158 1153.3v-3.6M1158 671.4v3.6M1180.02 1153.3v-3.6M1180.02 671.4v3.6M1202.04 1153.3v-3.6M1202.04 671.4v3.6M1246.07 1153.3v-3.6M1246.07 671.4v3.6M1268.08 1153.3v-3.6M1268.08 671.4v3.6M1290.1 1153.3v-3.6M1290.1 671.4v3.6M1312.11 1153.3v-3.6M1312.11 671.4v3.6M1356.14 1153.3v-3.6M1356.14 671.4v3.6M1378.15 1153.3v-3.6M1378.15 671.4v3.6M1400.17 1153.3v-3.6M1400.17 671.4v3.6M1422.18 1153.3v-3.6M1422.18 671.4v3.6M1466.22 1153.3v-3.6M1466.22 671.4v3.6M1488.23 1153.3v-3.6M1488.23 671.4v3.6M1510.24 1153.3v-3.6M1510.24 671.4v3.6M1532.26 1153.3v-3.6M1532.26 671.4v3.6M1576.29 1153.3v-3.6M1576.29 671.4v3.6M1598.31 1153.3v-3.6M1598.31 671.4v3.6M1620.32 1153.3v-3.6M1620.32 671.4v3.6M1642.34 1153.3v-3.6M1642.34 671.4v3.6M1686.37 1153.3v-3.6M1686.37 671.4v3.6M1708.38 1153.3v-3.6M1708.38 671.4v3.6M1730.39 1153.3v-3.6M1730.39 671.4v3.6M1752.41 1153.3v-3.6M1752.41 671.4v3.6M988.4 1131.4h6M1768.2 1131.4h-6M988.4 1058.42h6M1768.2 1058.42h-6M988.4 985.44h6M1768.2 985.44h-6M988.4 912.46h6M1768.2 912.46h-6M988.4 839.48h6M1768.2 839.48h-6M988.4 766.5h6M1768.2 766.5h-6M988.4 693.52h6M1768.2 693.52h-6M988.4 1146h3.6M1768.2 1146h-3.6M988.4 1116.8h3.6M1768.2 1116.8h-3.6M988.4 1102.21h3.6M1768.2 1102.21h-3.6M988.4 1087.61h3.6M1768.2 1087.61h-3.6M988.4 1073.02h3.6M1768.2 1073.02h-3.6M988.4 1043.82h3.6M1768.2 1043.82h-3.6M988.4 1029.23h3.6M1768.2 1029.23h-3.6M988.4 1014.63h3.6M1768.2 1014.63h-3.6M988.4 1000.04h3.6M1768.2 1000.04h-3.6M988.4 970.84h3.6M1768.2 970.84h-3.6M988.4 956.25h3.6M1768.2 956.25h-3.6M988.4 941.65h3.6M1768.2 941.65h-3.6M988.4 927.06h3.6M1768.2 927.06h-3.6M988.4 897.86h3.6M1768.2 897.86h-3.6M988.4 883.27h3.6M1768.2 883.27h-3.6M988.4 868.67h3.6M1768.2 868.67h-3.6M988.4 854.08h3.6M1768.2 854.08h-3.6M988.4 824.88h3.6M1768.2 824.88h-3.6M988.4 810.29h3.6M1768.2 810.29h-3.6M988.4 795.69h3.6M1768.2 795.69h-3.6M988.4 781.1h3.6M1768.2 781.1h-3.6M988.4 751.9h3.6M1768.2 751.9h-3.6M988.4 737.31h3.6M1768.2 737.31h-3.6M988.4 722.71h3.6M1768.2 722.71h-3.6M988.4 708.12h3.6M1768.2 708.12h-3.6M988.4 678.92h3.6M1768.2 678.92h-3.6"/>
<text class="tl" transform="translate(1003.9 1179.9) scale(0.985 1)" font-size="26" text-anchor="middle">0.0</text>
<text class="tl" transform="translate(1113.97 1179.9) scale(0.985 1)" font-size="26" text-anchor="middle">0.5</text>
<text class="tl" transform="translate(1224.05 1179.9) scale(0.985 1)" font-size="26" text-anchor="middle">1.0</text>
<text class="tl" transform="translate(1334.12 1179.9) scale(0.985 1)" font-size="26" text-anchor="middle">1.5</text>
<text class="tl" transform="translate(1444.2 1179.9) scale(0.985 1)" font-size="26" text-anchor="middle">2.0</text>
<text class="tl" transform="translate(1554.28 1179.9) scale(0.985 1)" font-size="26" text-anchor="middle">2.5</text>
<text class="tl" transform="translate(1664.35 1179.9) scale(0.985 1)" font-size="26" text-anchor="middle">3.0</text>
<text class="tl" transform="translate(984 1140.1) scale(0.985 1)" font-size="26" text-anchor="end">1</text>
<text class="tl" transform="translate(984 1067.12) scale(0.985 1)" font-size="26" text-anchor="end">2</text>
<text class="tl" transform="translate(984 994.14) scale(0.985 1)" font-size="26" text-anchor="end">3</text>
<text class="tl" transform="translate(984 921.16) scale(0.985 1)" font-size="26" text-anchor="end">4</text>
<text class="tl" transform="translate(984 848.18) scale(0.985 1)" font-size="26" text-anchor="end">5</text>
<text class="tl" transform="translate(984 775.2) scale(0.985 1)" font-size="26" text-anchor="end">6</text>
<text class="tl" transform="translate(984 702.22) scale(0.985 1)" font-size="26" text-anchor="end">7</text>
<text transform="translate(1378.1 649.1) scale(1 0.96)" font-size="40" text-anchor="middle">(d)</text>
<text transform="translate(1378.7 1221.5) scale(1 1.03)" font-size="40" font-style="italic" text-anchor="middle">z</text>
<text transform="translate(943.3 933.7) rotate(-90) scale(0.98 1.14)" font-size="40" font-weight="bold">τ</text>
<text transform="translate(953.4 902.5) rotate(-90)" font-size="21.4" font-style="italic">χ</text>
<g class="leg">
<path d="M1042.3 708.5H1067.1" stroke="#b4b4ff" stroke-width="1.1" stroke-linecap="square"/>
<path d="M1042.3 749.4H1067.1" stroke="#b4b4ff" stroke-width="1.1" stroke-linecap="square" stroke-dasharray="13.7 18.75"/>
<path d="M1042.3 790.4H1067.1" stroke="#b4b4ff" stroke-width="1.1" stroke-linecap="square" stroke-dasharray="1 6 5.2 6.23"/>
<path d="M1042.3 831.6H1067.1" stroke="#b4b4ff" stroke-width="1.1" stroke-linecap="square" stroke-dasharray="1 6.08"/>
</g>
<text transform="translate(1075.78 714.2) scale(1.32 0.93)" font-size="36" font-weight="bold" font-style="italic">σ</text>
<text class="eq" transform="translate(1116.6 719.74) scale(1.25 1.374)" font-size="36" font-weight="bold">=</text>
<text transform="translate(1151.2 713.7) scale(1.017 1)" font-size="36" font-weight="bold">0.1</text>
<text transform="translate(1075.78 755.1) scale(1.32 0.93)" font-size="36" font-weight="bold" font-style="italic">σ</text>
<text class="eq" transform="translate(1116.6 760.64) scale(1.25 1.374)" font-size="36" font-weight="bold">=</text>
<text transform="translate(1151.2 754.6) scale(1.017 1)" font-size="36" font-weight="bold">0.2</text>
<text transform="translate(1075.78 795.9) scale(1.32 0.93)" font-size="36" font-weight="bold" font-style="italic">σ</text>
<text class="eq" transform="translate(1116.6 801.44) scale(1.25 1.374)" font-size="36" font-weight="bold">=</text>
<text transform="translate(1151.2 795.4) scale(1.017 1)" font-size="36" font-weight="bold">0.3</text>
<text transform="translate(1075.78 836.2) scale(1.32 0.93)" font-size="36" font-weight="bold" font-style="italic">σ</text>
<text class="eq" transform="translate(1116.6 841.74) scale(1.25 1.374)" font-size="36" font-weight="bold">=</text>
<text transform="translate(1151.2 835.7) scale(1.017 1)" font-size="36" font-weight="bold">0.4</text>
<text transform="translate(1265.6 737.4) scale(1.025 0.965)" font-size="36" font-weight="bold">Red: Dilatation</text>
<text transform="translate(1265.6 789.5) scale(1.025 0.965)" font-size="36" font-weight="bold">Blue: Stenosis</text>
</g>
</svg>
</body>
</html>
